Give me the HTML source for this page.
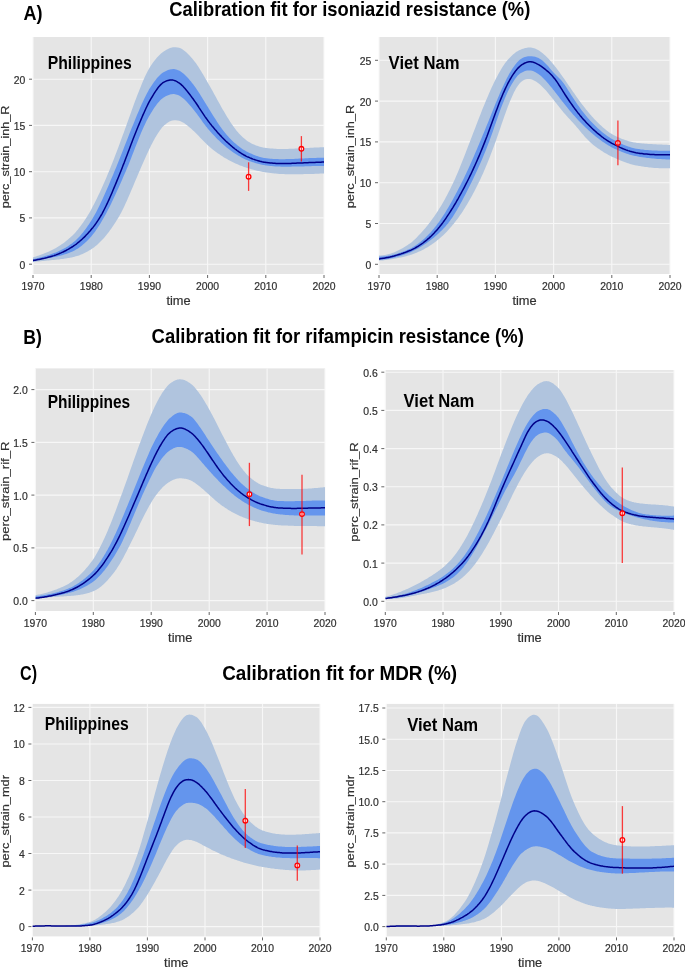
<!DOCTYPE html><html><head><meta charset="utf-8"><style>html,body{margin:0;padding:0;background:#fff;width:685px;height:967px;overflow:hidden}svg{display:block;font-family:"Liberation Sans",sans-serif;will-change:transform;-webkit-font-smoothing:antialiased}</style></head><body>
<svg width="685" height="967" viewBox="0 0 685 967">
<rect width="685" height="967" fill="#fff"/>
<text x="23.6" y="19.7" font-size="20" font-weight="bold" fill="#000" textLength="19.0" lengthAdjust="spacingAndGlyphs">A)</text>
<text x="169.3" y="15.9" font-size="20.5" font-weight="bold" fill="#000" textLength="361" lengthAdjust="spacingAndGlyphs">Calibration fit for isoniazid resistance (%)</text>
<text x="23.3" y="343.5" font-size="21" font-weight="bold" fill="#000" textLength="18.6" lengthAdjust="spacingAndGlyphs">B)</text>
<text x="151.6" y="343.1" font-size="20.5" font-weight="bold" fill="#000" textLength="372.2" lengthAdjust="spacingAndGlyphs">Calibration fit for rifampicin resistance (%)</text>
<text x="20.1" y="680.3" font-size="21" font-weight="bold" fill="#000" textLength="17.0" lengthAdjust="spacingAndGlyphs">C)</text>
<text x="222.2" y="680.3" font-size="20.5" font-weight="bold" fill="#000" textLength="234.9" lengthAdjust="spacingAndGlyphs">Calibration fit for MDR (%)</text>
<defs><clipPath id="cal"><rect x="33" y="37" width="291" height="237"/></clipPath></defs>
<rect x="33" y="37" width="291" height="237" fill="#E5E5E5"/>
<path d="M33,264.2 H324 M33,217.9 H324 M33,171.7 H324 M33,125.4 H324 M33,79.2 H324 M33,37 V274 M91.2,37 V274 M149.4,37 V274 M207.6,37 V274 M265.8,37 V274 M324,37 V274" stroke="#F7F7F7" stroke-width="1.1" fill="none"/>
<path d="M29,264.2 H32 M29,217.9 H32 M29,171.7 H32 M29,125.4 H32 M29,79.2 H32 M33,275 V278 M91.2,275 V278 M149.4,275 V278 M207.6,275 V278 M265.8,275 V278 M324,275 V278" stroke="#555" stroke-width="0.9" fill="none"/>
<text x="25.4" y="268.6" font-size="10.4" fill="#303030" stroke="#303030" stroke-width="0.2" text-anchor="end">0</text>
<text x="25.4" y="222.3" font-size="10.4" fill="#303030" stroke="#303030" stroke-width="0.2" text-anchor="end">5</text>
<text x="25.4" y="176.1" font-size="10.4" fill="#303030" stroke="#303030" stroke-width="0.2" text-anchor="end">10</text>
<text x="25.4" y="129.8" font-size="10.4" fill="#303030" stroke="#303030" stroke-width="0.2" text-anchor="end">15</text>
<text x="25.4" y="83.6" font-size="10.4" fill="#303030" stroke="#303030" stroke-width="0.2" text-anchor="end">20</text>
<text x="33" y="290" font-size="10.4" fill="#303030" stroke="#303030" stroke-width="0.2" text-anchor="middle">1970</text>
<text x="91.2" y="290" font-size="10.4" fill="#303030" stroke="#303030" stroke-width="0.2" text-anchor="middle">1980</text>
<text x="149.4" y="290" font-size="10.4" fill="#303030" stroke="#303030" stroke-width="0.2" text-anchor="middle">1990</text>
<text x="207.6" y="290" font-size="10.4" fill="#303030" stroke="#303030" stroke-width="0.2" text-anchor="middle">2000</text>
<text x="265.8" y="290" font-size="10.4" fill="#303030" stroke="#303030" stroke-width="0.2" text-anchor="middle">2010</text>
<text x="324" y="290" font-size="10.4" fill="#303030" stroke="#303030" stroke-width="0.2" text-anchor="middle">2020</text>
<text x="178.5" y="304.8" font-size="12.6" fill="#303030" stroke="#303030" stroke-width="0.2" text-anchor="middle" textLength="24.2" lengthAdjust="spacingAndGlyphs">time</text>
<text transform="translate(8.8,156.9) rotate(-90)" font-size="11.6" fill="#303030" stroke="#303030" stroke-width="0.2" text-anchor="middle" textLength="102.8" lengthAdjust="spacingAndGlyphs">perc_strain_inh_R</text>
<g clip-path="url(#cal)">
<path d="M33,257.4 L34,257.1 L35,256.8 L36,256.5 L37,256.1 L38,255.8 L39,255.4 L40,255.1 L41,254.7 L42,254.3 L43,254 L44,253.6 L45,253.1 L46,252.7 L47,252.3 L48,251.9 L49,251.4 L50,250.9 L51,250.5 L52,250 L53,249.5 L54,249 L55,248.4 L56,247.9 L57,247.3 L58,246.7 L59,246.1 L60,245.4 L61,244.8 L62,244.1 L63,243.4 L64,242.7 L65,241.9 L66,241.1 L67,240.3 L68,239.5 L69,238.6 L70,237.7 L71,236.8 L72,235.9 L73,234.9 L74,233.9 L75,232.9 L76,231.7 L77,230.6 L78,229.4 L79,228.1 L80,226.8 L81,225.5 L82,224.1 L83,222.7 L84,221.3 L85,219.8 L86,218.3 L87,216.7 L88,215.1 L89,213.4 L90,211.7 L91,209.9 L92,208 L93,206.1 L94,204.2 L95,202.2 L96,200.2 L97,198.2 L98,196.1 L99,194 L100,191.9 L101,189.7 L102,187.5 L103,185.2 L104,183 L105,180.7 L106,178.4 L107,176 L108,173.6 L109,171.2 L110,168.8 L111,166.3 L112,163.8 L113,161.3 L114,158.7 L115,156.1 L116,153.5 L117,150.8 L118,148.2 L119,145.5 L120,142.8 L121,140.1 L122,137.3 L123,134.6 L124,131.9 L125,129.1 L126,126.4 L127,123.6 L128,120.8 L129,118 L130,115.2 L131,112.4 L132,109.6 L133,106.8 L134,104 L135,101.3 L136,98.7 L137,96.1 L138,93.5 L139,91 L140,88.4 L141,85.9 L142,83.5 L143,81.1 L144,78.8 L145,76.6 L146,74.5 L147,72.4 L148,70.5 L149,68.8 L150,67.1 L151,65.5 L152,64 L153,62.6 L154,61.2 L155,59.9 L156,58.7 L157,57.5 L158,56.4 L159,55.4 L160,54.4 L161,53.5 L162,52.7 L163,52 L164,51.3 L165,50.7 L166,50.1 L167,49.5 L168,49 L169,48.5 L170,48.1 L171,47.8 L172,47.5 L173,47.3 L174,47.2 L175,47.2 L176,47.3 L177,47.4 L178,47.6 L179,47.8 L180,48.1 L181,48.5 L182,49.1 L183,49.7 L184,50.4 L185,51.2 L186,52.1 L187,53 L188,54 L189,55 L190,56.1 L191,57.2 L192,58.3 L193,59.5 L194,60.7 L195,62 L196,63.3 L197,64.8 L198,66.3 L199,67.8 L200,69.4 L201,71 L202,72.7 L203,74.3 L204,76 L205,77.8 L206,79.5 L207,81.2 L208,82.9 L209,84.7 L210,86.4 L211,88.2 L212,90 L213,91.8 L214,93.7 L215,95.5 L216,97.3 L217,99.2 L218,101 L219,102.8 L220,104.6 L221,106.4 L222,108.2 L223,109.9 L224,111.6 L225,113.3 L226,115 L227,116.7 L228,118.3 L229,119.8 L230,121.4 L231,122.9 L232,124.4 L233,125.8 L234,127.2 L235,128.6 L236,129.9 L237,131.2 L238,132.3 L239,133.5 L240,134.5 L241,135.5 L242,136.5 L243,137.4 L244,138.3 L245,139.1 L246,139.9 L247,140.7 L248,141.4 L249,142 L250,142.6 L251,143.2 L252,143.7 L253,144.2 L254,144.6 L255,145 L256,145.4 L257,145.8 L258,146.1 L259,146.4 L260,146.7 L261,147 L262,147.2 L263,147.5 L264,147.7 L265,147.8 L266,148 L267,148.1 L268,148.2 L269,148.3 L270,148.4 L271,148.5 L272,148.6 L273,148.6 L274,148.7 L275,148.8 L276,148.8 L277,148.9 L278,148.9 L279,148.9 L280,148.9 L281,148.9 L282,148.9 L283,148.9 L284,148.9 L285,148.9 L286,148.9 L287,148.9 L288,148.9 L289,148.8 L290,148.8 L291,148.8 L292,148.7 L293,148.7 L294,148.7 L295,148.6 L296,148.6 L297,148.5 L298,148.5 L299,148.4 L300,148.4 L301,148.3 L302,148.3 L303,148.2 L304,148.2 L305,148.1 L306,148.1 L307,148 L308,147.9 L309,147.9 L310,147.8 L311,147.8 L312,147.7 L313,147.7 L314,147.6 L315,147.6 L316,147.5 L317,147.5 L318,147.4 L319,147.4 L320,147.3 L321,147.3 L322,147.3 L323,147.2 L324,147.2 L324,173.5 L323,173.5 L322,173.6 L321,173.6 L320,173.6 L319,173.7 L318,173.7 L317,173.8 L316,173.8 L315,173.8 L314,173.9 L313,173.9 L312,173.9 L311,174 L310,174 L309,174 L308,174 L307,174.1 L306,174.1 L305,174.1 L304,174.1 L303,174.2 L302,174.2 L301,174.2 L300,174.2 L299,174.2 L298,174.2 L297,174.2 L296,174.2 L295,174.2 L294,174.2 L293,174.2 L292,174.2 L291,174.2 L290,174.2 L289,174.2 L288,174.2 L287,174.2 L286,174.2 L285,174.2 L284,174.1 L283,174.1 L282,174.1 L281,174 L280,174 L279,173.9 L278,173.8 L277,173.7 L276,173.6 L275,173.5 L274,173.4 L273,173.3 L272,173.2 L271,173.1 L270,173 L269,172.8 L268,172.7 L267,172.5 L266,172.4 L265,172.2 L264,172.1 L263,171.9 L262,171.7 L261,171.5 L260,171.3 L259,171.1 L258,170.9 L257,170.7 L256,170.4 L255,170.2 L254,169.9 L253,169.6 L252,169.4 L251,169.1 L250,168.8 L249,168.5 L248,168.2 L247,167.9 L246,167.6 L245,167.2 L244,166.9 L243,166.5 L242,166.1 L241,165.8 L240,165.4 L239,164.9 L238,164.5 L237,164.1 L236,163.7 L235,163.2 L234,162.7 L233,162.3 L232,161.8 L231,161.3 L230,160.7 L229,160.2 L228,159.7 L227,159.1 L226,158.6 L225,158 L224,157.4 L223,156.8 L222,156.1 L221,155.5 L220,154.8 L219,154.1 L218,153.4 L217,152.7 L216,152 L215,151.2 L214,150.5 L213,149.7 L212,148.9 L211,148.1 L210,147.2 L209,146.3 L208,145.5 L207,144.6 L206,143.6 L205,142.6 L204,141.6 L203,140.6 L202,139.5 L201,138.5 L200,137.4 L199,136.3 L198,135.3 L197,134.2 L196,133.2 L195,132.2 L194,131.3 L193,130.4 L192,129.5 L191,128.6 L190,127.8 L189,126.9 L188,126.1 L187,125.2 L186,124.5 L185,123.8 L184,123.1 L183,122.5 L182,121.9 L181,121.5 L180,121.1 L179,120.8 L178,120.6 L177,120.4 L176,120.3 L175,120.2 L174,120.3 L173,120.4 L172,120.6 L171,120.9 L170,121.3 L169,121.8 L168,122.4 L167,123.1 L166,123.9 L165,124.7 L164,125.5 L163,126.5 L162,127.6 L161,128.9 L160,130.2 L159,131.7 L158,133.2 L157,134.8 L156,136.5 L155,138.1 L154,139.9 L153,141.7 L152,143.7 L151,145.6 L150,147.7 L149,149.7 L148,151.9 L147,154 L146,156.2 L145,158.5 L144,160.7 L143,163 L142,165.3 L141,167.6 L140,169.9 L139,172.2 L138,174.5 L137,176.9 L136,179.2 L135,181.6 L134,184 L133,186.4 L132,188.8 L131,191.1 L130,193.5 L129,195.8 L128,198.1 L127,200.4 L126,202.6 L125,204.8 L124,206.9 L123,208.9 L122,210.9 L121,212.9 L120,214.7 L119,216.5 L118,218.2 L117,219.8 L116,221.4 L115,223 L114,224.5 L113,226 L112,227.5 L111,228.9 L110,230.3 L109,231.7 L108,233 L107,234.3 L106,235.5 L105,236.7 L104,237.9 L103,239 L102,240.1 L101,241.1 L100,242.1 L99,243.1 L98,244 L97,244.9 L96,245.8 L95,246.6 L94,247.4 L93,248.1 L92,248.8 L91,249.4 L90,250.1 L89,250.6 L88,251.2 L87,251.8 L86,252.3 L85,252.8 L84,253.3 L83,253.7 L82,254.2 L81,254.6 L80,255 L79,255.4 L78,255.7 L77,256 L76,256.3 L75,256.6 L74,256.9 L73,257.1 L72,257.4 L71,257.6 L70,257.8 L69,258 L68,258.1 L67,258.3 L66,258.5 L65,258.6 L64,258.8 L63,258.9 L62,259 L61,259.1 L60,259.2 L59,259.4 L58,259.5 L57,259.6 L56,259.7 L55,259.8 L54,259.9 L53,260 L52,260.1 L51,260.2 L50,260.3 L49,260.4 L48,260.5 L47,260.6 L46,260.7 L45,260.8 L44,260.9 L43,261 L42,261.1 L41,261.2 L40,261.3 L39,261.4 L38,261.5 L37,261.6 L36,261.7 L35,261.9 L34,262 L33,262.1 Z" fill="#B0C4DE"/>
<path d="M33,259.2 L34,259 L35,258.7 L36,258.5 L37,258.2 L38,258 L39,257.7 L40,257.5 L41,257.2 L42,256.9 L43,256.7 L44,256.4 L45,256.1 L46,255.8 L47,255.5 L48,255.2 L49,254.9 L50,254.5 L51,254.2 L52,253.8 L53,253.5 L54,253.1 L55,252.8 L56,252.4 L57,252 L58,251.5 L59,251.1 L60,250.6 L61,250.1 L62,249.6 L63,249.1 L64,248.6 L65,248 L66,247.4 L67,246.8 L68,246.2 L69,245.5 L70,244.8 L71,244.1 L72,243.4 L73,242.6 L74,241.8 L75,240.9 L76,240 L77,239.1 L78,238.1 L79,237 L80,235.9 L81,234.8 L82,233.6 L83,232.4 L84,231.1 L85,229.8 L86,228.5 L87,227.1 L88,225.6 L89,224.2 L90,222.6 L91,221.1 L92,219.5 L93,217.8 L94,216.1 L95,214.3 L96,212.4 L97,210.5 L98,208.5 L99,206.5 L100,204.4 L101,202.3 L102,200.2 L103,198 L104,195.8 L105,193.6 L106,191.3 L107,189 L108,186.7 L109,184.4 L110,182 L111,179.6 L112,177.3 L113,174.9 L114,172.5 L115,170.1 L116,167.7 L117,165.3 L118,162.8 L119,160.3 L120,157.8 L121,155.3 L122,152.7 L123,150.2 L124,147.6 L125,145.1 L126,142.5 L127,139.9 L128,137.4 L129,134.8 L130,132.3 L131,129.8 L132,127.3 L133,124.9 L134,122.4 L135,120 L136,117.5 L137,115.1 L138,112.7 L139,110.4 L140,108.1 L141,105.8 L142,103.6 L143,101.4 L144,99.3 L145,97.2 L146,95.2 L147,93.2 L148,91.4 L149,89.6 L150,88 L151,86.4 L152,84.9 L153,83.4 L154,82 L155,80.7 L156,79.4 L157,78.1 L158,77 L159,75.9 L160,74.9 L161,74 L162,73.3 L163,72.6 L164,72 L165,71.4 L166,71 L167,70.5 L168,70.1 L169,69.8 L170,69.5 L171,69.3 L172,69.2 L173,69.1 L174,69.1 L175,69.2 L176,69.5 L177,69.8 L178,70.2 L179,70.6 L180,71.1 L181,71.7 L182,72.4 L183,73.2 L184,74.1 L185,75 L186,76 L187,77 L188,78.1 L189,79.2 L190,80.4 L191,81.6 L192,82.9 L193,84.1 L194,85.4 L195,86.8 L196,88.2 L197,89.7 L198,91.2 L199,92.7 L200,94.3 L201,95.9 L202,97.5 L203,99.2 L204,100.8 L205,102.5 L206,104.1 L207,105.7 L208,107.3 L209,108.9 L210,110.5 L211,112.2 L212,113.8 L213,115.4 L214,117 L215,118.6 L216,120.1 L217,121.7 L218,123.2 L219,124.7 L220,126.2 L221,127.6 L222,128.9 L223,130.3 L224,131.6 L225,132.8 L226,134 L227,135.2 L228,136.3 L229,137.4 L230,138.5 L231,139.5 L232,140.5 L233,141.4 L234,142.4 L235,143.3 L236,144.1 L237,145 L238,145.8 L239,146.5 L240,147.3 L241,148 L242,148.7 L243,149.4 L244,150 L245,150.6 L246,151.2 L247,151.7 L248,152.3 L249,152.7 L250,153.2 L251,153.6 L252,154.1 L253,154.5 L254,154.9 L255,155.3 L256,155.7 L257,156 L258,156.3 L259,156.7 L260,157 L261,157.2 L262,157.5 L263,157.7 L264,157.9 L265,158.1 L266,158.2 L267,158.3 L268,158.5 L269,158.6 L270,158.7 L271,158.7 L272,158.8 L273,158.9 L274,159 L275,159 L276,159.1 L277,159.1 L278,159.1 L279,159.2 L280,159.2 L281,159.2 L282,159.2 L283,159.2 L284,159.2 L285,159.2 L286,159.1 L287,159.1 L288,159.1 L289,159.1 L290,159 L291,159 L292,158.9 L293,158.9 L294,158.9 L295,158.8 L296,158.8 L297,158.7 L298,158.7 L299,158.6 L300,158.6 L301,158.5 L302,158.5 L303,158.4 L304,158.4 L305,158.3 L306,158.3 L307,158.2 L308,158.2 L309,158.1 L310,158.1 L311,158.1 L312,158 L313,158 L314,157.9 L315,157.9 L316,157.9 L317,157.8 L318,157.8 L319,157.8 L320,157.8 L321,157.7 L322,157.7 L323,157.7 L324,157.7 L324,165.9 L323,165.9 L322,165.9 L321,165.9 L320,166 L319,166 L318,166 L317,166 L316,166 L315,166.1 L314,166.1 L313,166.1 L312,166.1 L311,166.2 L310,166.2 L309,166.2 L308,166.2 L307,166.3 L306,166.3 L305,166.3 L304,166.4 L303,166.4 L302,166.4 L301,166.4 L300,166.5 L299,166.5 L298,166.5 L297,166.5 L296,166.6 L295,166.6 L294,166.6 L293,166.6 L292,166.6 L291,166.7 L290,166.7 L289,166.7 L288,166.7 L287,166.7 L286,166.7 L285,166.7 L284,166.7 L283,166.7 L282,166.7 L281,166.7 L280,166.6 L279,166.6 L278,166.6 L277,166.5 L276,166.4 L275,166.4 L274,166.3 L273,166.2 L272,166.1 L271,166 L270,165.9 L269,165.8 L268,165.7 L267,165.6 L266,165.5 L265,165.3 L264,165.1 L263,165 L262,164.8 L261,164.5 L260,164.3 L259,164.1 L258,163.8 L257,163.5 L256,163.2 L255,162.9 L254,162.6 L253,162.3 L252,162 L251,161.6 L250,161.2 L249,160.9 L248,160.5 L247,160.1 L246,159.7 L245,159.2 L244,158.7 L243,158.2 L242,157.7 L241,157.2 L240,156.6 L239,156 L238,155.4 L237,154.8 L236,154.2 L235,153.5 L234,152.9 L233,152.2 L232,151.5 L231,150.7 L230,150 L229,149.2 L228,148.5 L227,147.7 L226,146.9 L225,146 L224,145.2 L223,144.3 L222,143.4 L221,142.5 L220,141.6 L219,140.6 L218,139.7 L217,138.7 L216,137.7 L215,136.6 L214,135.6 L213,134.5 L212,133.4 L211,132.3 L210,131.2 L209,130 L208,128.9 L207,127.6 L206,126.4 L205,125.1 L204,123.8 L203,122.4 L202,121 L201,119.6 L200,118.2 L199,116.8 L198,115.5 L197,114.1 L196,112.8 L195,111.5 L194,110.2 L193,109 L192,107.8 L191,106.6 L190,105.4 L189,104.3 L188,103.2 L187,102.1 L186,101 L185,100 L184,99.1 L183,98.2 L182,97.4 L181,96.7 L180,96.1 L179,95.5 L178,95.1 L177,94.7 L176,94.4 L175,94.2 L174,94.1 L173,94.1 L172,94.2 L171,94.3 L170,94.6 L169,94.9 L168,95.2 L167,95.7 L166,96.1 L165,96.7 L164,97.3 L163,97.9 L162,98.7 L161,99.6 L160,100.6 L159,101.7 L158,102.8 L157,104.1 L156,105.4 L155,106.8 L154,108.3 L153,109.8 L152,111.4 L151,113 L150,114.7 L149,116.3 L148,118.2 L147,120.1 L146,122.1 L145,124.2 L144,126.3 L143,128.5 L142,130.8 L141,133.1 L140,135.5 L139,137.9 L138,140.4 L137,143 L136,145.5 L135,148.1 L134,150.7 L133,153.2 L132,155.8 L131,158.4 L130,160.9 L129,163.4 L128,165.9 L127,168.3 L126,170.7 L125,173 L124,175.3 L123,177.6 L122,179.9 L121,182.2 L120,184.4 L119,186.7 L118,188.9 L117,191.1 L116,193.3 L115,195.5 L114,197.6 L113,199.7 L112,201.8 L111,203.9 L110,205.9 L109,207.9 L108,209.8 L107,211.8 L106,213.7 L105,215.5 L104,217.3 L103,219.1 L102,220.8 L101,222.5 L100,224.2 L99,225.8 L98,227.3 L97,228.8 L96,230.3 L95,231.7 L94,233 L93,234.3 L92,235.5 L91,236.7 L90,237.8 L89,238.9 L88,239.9 L87,240.9 L86,241.9 L85,242.8 L84,243.7 L83,244.6 L82,245.4 L81,246.2 L80,247 L79,247.7 L78,248.4 L77,249 L76,249.6 L75,250.2 L74,250.7 L73,251.2 L72,251.7 L71,252.1 L70,252.5 L69,252.9 L68,253.3 L67,253.7 L66,254 L65,254.3 L64,254.6 L63,254.9 L62,255.2 L61,255.5 L60,255.7 L59,256 L58,256.2 L57,256.4 L56,256.7 L55,256.9 L54,257.1 L53,257.3 L52,257.5 L51,257.7 L50,257.9 L49,258.1 L48,258.3 L47,258.5 L46,258.7 L45,258.9 L44,259.1 L43,259.3 L42,259.5 L41,259.7 L40,259.9 L39,260.1 L38,260.3 L37,260.5 L36,260.8 L35,261 L34,261.2 L33,261.4 Z" fill="#6495ED"/>
<path d="M33,260.5 L34,260.3 L35,260.2 L36,260 L37,259.8 L38,259.6 L39,259.4 L40,259.2 L41,259 L42,258.8 L43,258.6 L44,258.4 L45,258.1 L46,257.9 L47,257.6 L48,257.3 L49,257.1 L50,256.8 L51,256.5 L52,256.2 L53,255.9 L54,255.6 L55,255.2 L56,254.9 L57,254.5 L58,254.1 L59,253.7 L60,253.3 L61,252.9 L62,252.4 L63,252 L64,251.5 L65,251 L66,250.5 L67,249.9 L68,249.4 L69,248.8 L70,248.2 L71,247.6 L72,247 L73,246.4 L74,245.7 L75,245 L76,244.3 L77,243.5 L78,242.7 L79,241.9 L80,241 L81,240.2 L82,239.3 L83,238.3 L84,237.4 L85,236.4 L86,235.3 L87,234.3 L88,233.2 L89,232.1 L90,231 L91,229.8 L92,228.6 L93,227.4 L94,226.1 L95,224.8 L96,223.4 L97,221.9 L98,220.4 L99,218.8 L100,217.2 L101,215.5 L102,213.8 L103,211.9 L104,210 L105,208 L106,206 L107,203.9 L108,201.8 L109,199.6 L110,197.3 L111,195 L112,192.7 L113,190.3 L114,187.9 L115,185.5 L116,183.1 L117,180.6 L118,178.2 L119,175.7 L120,173.2 L121,170.7 L122,168.2 L123,165.6 L124,163.1 L125,160.4 L126,157.8 L127,155.2 L128,152.5 L129,149.9 L130,147.2 L131,144.6 L132,141.9 L133,139.3 L134,136.7 L135,134.2 L136,131.7 L137,129.2 L138,126.8 L139,124.4 L140,122 L141,119.6 L142,117.3 L143,114.9 L144,112.7 L145,110.5 L146,108.3 L147,106.2 L148,104.2 L149,102.2 L150,100.4 L151,98.6 L152,97 L153,95.3 L154,93.7 L155,92.1 L156,90.6 L157,89.2 L158,87.8 L159,86.6 L160,85.4 L161,84.4 L162,83.5 L163,82.7 L164,82.1 L165,81.6 L166,81.1 L167,80.7 L168,80.4 L169,80.2 L170,80 L171,80 L172,80 L173,80.1 L174,80.4 L175,80.7 L176,81.2 L177,81.7 L178,82.3 L179,82.9 L180,83.6 L181,84.4 L182,85.4 L183,86.3 L184,87.4 L185,88.5 L186,89.7 L187,90.9 L188,92.2 L189,93.5 L190,94.8 L191,96.1 L192,97.5 L193,98.8 L194,100.2 L195,101.6 L196,103 L197,104.5 L198,106 L199,107.6 L200,109.1 L201,110.6 L202,112.1 L203,113.6 L204,115.1 L205,116.6 L206,118 L207,119.4 L208,120.8 L209,122.1 L210,123.4 L211,124.6 L212,125.9 L213,127.1 L214,128.3 L215,129.5 L216,130.6 L217,131.8 L218,132.9 L219,134 L220,135.1 L221,136.1 L222,137.2 L223,138.2 L224,139.2 L225,140.2 L226,141.2 L227,142.1 L228,143 L229,143.9 L230,144.8 L231,145.7 L232,146.5 L233,147.4 L234,148.2 L235,149 L236,149.7 L237,150.5 L238,151.2 L239,151.9 L240,152.5 L241,153.2 L242,153.8 L243,154.4 L244,155 L245,155.5 L246,156.1 L247,156.6 L248,157 L249,157.4 L250,157.9 L251,158.3 L252,158.7 L253,159.1 L254,159.4 L255,159.8 L256,160.1 L257,160.4 L258,160.7 L259,161 L260,161.3 L261,161.5 L262,161.8 L263,162 L264,162.2 L265,162.3 L266,162.5 L267,162.6 L268,162.7 L269,162.8 L270,162.9 L271,163 L272,163.1 L273,163.2 L274,163.2 L275,163.3 L276,163.4 L277,163.4 L278,163.4 L279,163.5 L280,163.5 L281,163.5 L282,163.5 L283,163.5 L284,163.5 L285,163.5 L286,163.5 L287,163.5 L288,163.4 L289,163.4 L290,163.4 L291,163.4 L292,163.3 L293,163.3 L294,163.3 L295,163.2 L296,163.2 L297,163.1 L298,163.1 L299,163.1 L300,163 L301,163 L302,162.9 L303,162.9 L304,162.8 L305,162.8 L306,162.8 L307,162.7 L308,162.7 L309,162.6 L310,162.6 L311,162.5 L312,162.5 L313,162.4 L314,162.4 L315,162.4 L316,162.3 L317,162.3 L318,162.3 L319,162.2 L320,162.2 L321,162.2 L322,162.1 L323,162.1 L324,162.1" fill="none" stroke="#000088" stroke-width="1.5" stroke-linejoin="round"/>
</g>
<circle cx="248.6" cy="176.7" r="2.3" fill="#fff" stroke="#FF0000" stroke-width="1.3"/>
<path d="M248.6,162.3 V190.9" stroke="#FF0000" stroke-opacity="0.75" stroke-width="1.3"/>
<circle cx="301.4" cy="148.8" r="2.3" fill="#fff" stroke="#FF0000" stroke-width="1.3"/>
<path d="M301.4,136.1 V161.5" stroke="#FF0000" stroke-opacity="0.75" stroke-width="1.3"/>
<text x="47.7" y="69.1" font-size="18" font-weight="bold" fill="#000" textLength="84.0" lengthAdjust="spacingAndGlyphs">Philippines</text>
<defs><clipPath id="car"><rect x="379" y="37" width="291" height="237"/></clipPath></defs>
<rect x="379" y="37" width="291" height="237" fill="#E5E5E5"/>
<path d="M379,264.3 H670 M379,223.5 H670 M379,182.7 H670 M379,141.9 H670 M379,101.1 H670 M379,60.3 H670 M379,37 V274 M437.2,37 V274 M495.4,37 V274 M553.6,37 V274 M611.8,37 V274 M670,37 V274" stroke="#F7F7F7" stroke-width="1.1" fill="none"/>
<path d="M375,264.3 H378 M375,223.5 H378 M375,182.7 H378 M375,141.9 H378 M375,101.1 H378 M375,60.3 H378 M379,275 V278 M437.2,275 V278 M495.4,275 V278 M553.6,275 V278 M611.8,275 V278 M670,275 V278" stroke="#555" stroke-width="0.9" fill="none"/>
<text x="371.4" y="268.7" font-size="10.4" fill="#303030" stroke="#303030" stroke-width="0.2" text-anchor="end">0</text>
<text x="371.4" y="227.9" font-size="10.4" fill="#303030" stroke="#303030" stroke-width="0.2" text-anchor="end">5</text>
<text x="371.4" y="187.1" font-size="10.4" fill="#303030" stroke="#303030" stroke-width="0.2" text-anchor="end">10</text>
<text x="371.4" y="146.3" font-size="10.4" fill="#303030" stroke="#303030" stroke-width="0.2" text-anchor="end">15</text>
<text x="371.4" y="105.5" font-size="10.4" fill="#303030" stroke="#303030" stroke-width="0.2" text-anchor="end">20</text>
<text x="371.4" y="64.7" font-size="10.4" fill="#303030" stroke="#303030" stroke-width="0.2" text-anchor="end">25</text>
<text x="379" y="290" font-size="10.4" fill="#303030" stroke="#303030" stroke-width="0.2" text-anchor="middle">1970</text>
<text x="437.2" y="290" font-size="10.4" fill="#303030" stroke="#303030" stroke-width="0.2" text-anchor="middle">1980</text>
<text x="495.4" y="290" font-size="10.4" fill="#303030" stroke="#303030" stroke-width="0.2" text-anchor="middle">1990</text>
<text x="553.6" y="290" font-size="10.4" fill="#303030" stroke="#303030" stroke-width="0.2" text-anchor="middle">2000</text>
<text x="611.8" y="290" font-size="10.4" fill="#303030" stroke="#303030" stroke-width="0.2" text-anchor="middle">2010</text>
<text x="670" y="290" font-size="10.4" fill="#303030" stroke="#303030" stroke-width="0.2" text-anchor="middle">2020</text>
<text x="524.5" y="304.8" font-size="12.6" fill="#303030" stroke="#303030" stroke-width="0.2" text-anchor="middle" textLength="24.2" lengthAdjust="spacingAndGlyphs">time</text>
<text transform="translate(354.1,156.5) rotate(-90)" font-size="11.6" fill="#303030" stroke="#303030" stroke-width="0.2" text-anchor="middle" textLength="103.5" lengthAdjust="spacingAndGlyphs">perc_strain_inh_R</text>
<g clip-path="url(#car)">
<path d="M379,255.4 L380,255.4 L381,255.4 L382,255.3 L383,255.2 L384,255.1 L385,254.9 L386,254.8 L387,254.6 L388,254.3 L389,254.1 L390,253.8 L391,253.4 L392,253.1 L393,252.7 L394,252.4 L395,251.9 L396,251.5 L397,251.1 L398,250.6 L399,250.1 L400,249.6 L401,249 L402,248.5 L403,247.9 L404,247.3 L405,246.7 L406,246.1 L407,245.4 L408,244.8 L409,244.1 L410,243.4 L411,242.7 L412,241.9 L413,241 L414,240.1 L415,239.2 L416,238.2 L417,237.2 L418,236.1 L419,235.1 L420,234 L421,232.9 L422,231.8 L423,230.7 L424,229.6 L425,228.4 L426,227.2 L427,226 L428,224.7 L429,223.5 L430,222.2 L431,220.8 L432,219.5 L433,218.1 L434,216.7 L435,215.3 L436,213.8 L437,212.3 L438,210.7 L439,209.1 L440,207.5 L441,205.9 L442,204.2 L443,202.4 L444,200.7 L445,198.9 L446,197.1 L447,195.2 L448,193.3 L449,191.3 L450,189.4 L451,187.3 L452,185.3 L453,183.2 L454,181 L455,178.9 L456,176.6 L457,174.3 L458,171.9 L459,169.5 L460,167.1 L461,164.6 L462,162.1 L463,159.5 L464,156.9 L465,154.4 L466,151.8 L467,149.2 L468,146.6 L469,144 L470,141.4 L471,138.8 L472,136.2 L473,133.6 L474,131 L475,128.4 L476,125.8 L477,123.2 L478,120.6 L479,118 L480,115.4 L481,112.9 L482,110.3 L483,107.8 L484,105.4 L485,103 L486,100.6 L487,98.2 L488,95.9 L489,93.5 L490,91.3 L491,89 L492,86.8 L493,84.7 L494,82.6 L495,80.6 L496,78.6 L497,76.7 L498,74.8 L499,73 L500,71.2 L501,69.5 L502,67.8 L503,66.2 L504,64.7 L505,63.3 L506,62 L507,60.8 L508,59.6 L509,58.5 L510,57.4 L511,56.4 L512,55.4 L513,54.5 L514,53.7 L515,52.9 L516,52.1 L517,51.5 L518,50.9 L519,50.3 L520,49.9 L521,49.5 L522,49.1 L523,48.7 L524,48.4 L525,48.1 L526,47.9 L527,47.7 L528,47.6 L529,47.5 L530,47.5 L531,47.5 L532,47.7 L533,47.9 L534,48.3 L535,48.6 L536,49.1 L537,49.5 L538,50 L539,50.6 L540,51.3 L541,52 L542,52.8 L543,53.6 L544,54.4 L545,55.3 L546,56.3 L547,57.2 L548,58.3 L549,59.3 L550,60.4 L551,61.6 L552,62.7 L553,63.9 L554,65.1 L555,66.4 L556,67.6 L557,68.9 L558,70.3 L559,71.6 L560,73 L561,74.4 L562,75.8 L563,77.2 L564,78.6 L565,80 L566,81.5 L567,82.9 L568,84.4 L569,85.9 L570,87.3 L571,88.8 L572,90.2 L573,91.7 L574,93.1 L575,94.6 L576,96 L577,97.4 L578,98.8 L579,100.2 L580,101.6 L581,102.9 L582,104.2 L583,105.5 L584,106.8 L585,108.1 L586,109.4 L587,110.6 L588,111.8 L589,113 L590,114.2 L591,115.3 L592,116.5 L593,117.6 L594,118.7 L595,119.7 L596,120.8 L597,121.8 L598,122.8 L599,123.8 L600,124.7 L601,125.6 L602,126.5 L603,127.4 L604,128.3 L605,129.1 L606,129.9 L607,130.7 L608,131.5 L609,132.2 L610,132.9 L611,133.5 L612,134.1 L613,134.7 L614,135.2 L615,135.7 L616,136.2 L617,136.7 L618,137.2 L619,137.6 L620,138.1 L621,138.5 L622,138.9 L623,139.3 L624,139.6 L625,140 L626,140.3 L627,140.6 L628,140.9 L629,141.2 L630,141.5 L631,141.7 L632,142 L633,142.2 L634,142.4 L635,142.6 L636,142.7 L637,142.9 L638,143 L639,143.1 L640,143.2 L641,143.3 L642,143.4 L643,143.5 L644,143.6 L645,143.7 L646,143.7 L647,143.8 L648,143.9 L649,144 L650,144 L651,144.1 L652,144.1 L653,144.2 L654,144.2 L655,144.3 L656,144.3 L657,144.4 L658,144.4 L659,144.5 L660,144.5 L661,144.6 L662,144.6 L663,144.7 L664,144.7 L665,144.8 L666,144.8 L667,144.8 L668,144.9 L669,144.9 L670,145 L670,168.3 L669,168.3 L668,168.3 L667,168.3 L666,168.3 L665,168.3 L664,168.3 L663,168.3 L662,168.3 L661,168.3 L660,168.2 L659,168.2 L658,168.1 L657,168.1 L656,168 L655,167.9 L654,167.9 L653,167.8 L652,167.7 L651,167.6 L650,167.5 L649,167.4 L648,167.3 L647,167.1 L646,167 L645,166.9 L644,166.7 L643,166.6 L642,166.5 L641,166.3 L640,166.1 L639,166 L638,165.8 L637,165.6 L636,165.4 L635,165.2 L634,165 L633,164.7 L632,164.5 L631,164.2 L630,163.9 L629,163.6 L628,163.2 L627,162.9 L626,162.6 L625,162.2 L624,161.8 L623,161.5 L622,161.1 L621,160.7 L620,160.2 L619,159.8 L618,159.4 L617,159 L616,158.5 L615,158.1 L614,157.6 L613,157.2 L612,156.7 L611,156.2 L610,155.7 L609,155.2 L608,154.7 L607,154.1 L606,153.5 L605,153 L604,152.4 L603,151.7 L602,151.1 L601,150.5 L600,149.8 L599,149.1 L598,148.5 L597,147.8 L596,147 L595,146.3 L594,145.5 L593,144.7 L592,143.8 L591,143 L590,142.1 L589,141.1 L588,140.1 L587,139.1 L586,138 L585,136.9 L584,135.8 L583,134.6 L582,133.4 L581,132.2 L580,131 L579,129.8 L578,128.6 L577,127.4 L576,126.2 L575,125.1 L574,124 L573,122.8 L572,121.7 L571,120.7 L570,119.6 L569,118.5 L568,117.4 L567,116.3 L566,115.2 L565,114 L564,112.9 L563,111.7 L562,110.5 L561,109.3 L560,108 L559,106.8 L558,105.5 L557,104.2 L556,102.9 L555,101.7 L554,100.4 L553,99.1 L552,97.9 L551,96.6 L550,95.4 L549,94.2 L548,92.9 L547,91.8 L546,90.6 L545,89.5 L544,88.4 L543,87.4 L542,86.4 L541,85.5 L540,84.5 L539,83.7 L538,82.9 L537,82.2 L536,81.6 L535,81 L534,80.5 L533,80 L532,79.6 L531,79.3 L530,79.1 L529,79 L528,79 L527,79.1 L526,79.3 L525,79.6 L524,79.9 L523,80.5 L522,81.2 L521,82.1 L520,83.1 L519,84.2 L518,85.4 L517,86.9 L516,88.5 L515,90.4 L514,92.3 L513,94.5 L512,96.7 L511,99 L510,101.3 L509,103.7 L508,106.3 L507,108.9 L506,111.7 L505,114.5 L504,117.3 L503,120.2 L502,123.1 L501,126 L500,128.9 L499,131.8 L498,134.7 L497,137.6 L496,140.4 L495,143.2 L494,145.9 L493,148.5 L492,151.2 L491,153.8 L490,156.4 L489,158.9 L488,161.4 L487,163.9 L486,166.3 L485,168.7 L484,171.1 L483,173.4 L482,175.6 L481,177.8 L480,180 L479,182.1 L478,184.1 L477,186.1 L476,188.1 L475,190 L474,191.9 L473,193.8 L472,195.7 L471,197.5 L470,199.3 L469,201 L468,202.8 L467,204.5 L466,206.1 L465,207.7 L464,209.3 L463,210.9 L462,212.4 L461,213.9 L460,215.3 L459,216.8 L458,218.2 L457,219.5 L456,220.8 L455,222.1 L454,223.4 L453,224.6 L452,225.8 L451,226.9 L450,228.1 L449,229.2 L448,230.3 L447,231.4 L446,232.4 L445,233.4 L444,234.4 L443,235.4 L442,236.3 L441,237.2 L440,238.1 L439,238.9 L438,239.8 L437,240.6 L436,241.4 L435,242.1 L434,242.9 L433,243.6 L432,244.3 L431,245 L430,245.6 L429,246.3 L428,246.9 L427,247.5 L426,248.1 L425,248.6 L424,249.2 L423,249.7 L422,250.2 L421,250.7 L420,251.2 L419,251.6 L418,252.1 L417,252.5 L416,252.9 L415,253.3 L414,253.7 L413,254.1 L412,254.4 L411,254.8 L410,255.1 L409,255.4 L408,255.6 L407,255.9 L406,256.2 L405,256.4 L404,256.7 L403,256.9 L402,257.2 L401,257.4 L400,257.6 L399,257.8 L398,258.1 L397,258.3 L396,258.5 L395,258.6 L394,258.8 L393,259 L392,259.2 L391,259.3 L390,259.5 L389,259.6 L388,259.8 L387,259.9 L386,260 L385,260.1 L384,260.3 L383,260.4 L382,260.4 L381,260.5 L380,260.6 L379,260.7 Z" fill="#B0C4DE"/>
<path d="M379,256.7 L380,256.7 L381,256.6 L382,256.5 L383,256.4 L384,256.3 L385,256.2 L386,256.1 L387,255.9 L388,255.8 L389,255.6 L390,255.4 L391,255.2 L392,255 L393,254.7 L394,254.5 L395,254.2 L396,254 L397,253.7 L398,253.4 L399,253.1 L400,252.7 L401,252.4 L402,252 L403,251.7 L404,251.3 L405,250.9 L406,250.5 L407,250.1 L408,249.6 L409,249.2 L410,248.7 L411,248.2 L412,247.7 L413,247.1 L414,246.5 L415,245.8 L416,245.2 L417,244.5 L418,243.7 L419,243 L420,242.2 L421,241.4 L422,240.6 L423,239.7 L424,238.9 L425,238 L426,237 L427,236.1 L428,235.1 L429,234 L430,233 L431,231.9 L432,230.7 L433,229.6 L434,228.4 L435,227.1 L436,225.9 L437,224.6 L438,223.2 L439,221.9 L440,220.5 L441,219 L442,217.5 L443,216 L444,214.5 L445,212.9 L446,211.3 L447,209.6 L448,207.9 L449,206.2 L450,204.5 L451,202.7 L452,201 L453,199.2 L454,197.3 L455,195.5 L456,193.6 L457,191.7 L458,189.8 L459,187.8 L460,185.9 L461,183.9 L462,181.9 L463,179.9 L464,177.9 L465,175.8 L466,173.7 L467,171.5 L468,169.4 L469,167.2 L470,165 L471,162.7 L472,160.5 L473,158.2 L474,155.9 L475,153.6 L476,151.2 L477,148.9 L478,146.6 L479,144.2 L480,141.8 L481,139.5 L482,137.1 L483,134.6 L484,132.2 L485,129.8 L486,127.3 L487,124.8 L488,122.4 L489,119.9 L490,117.4 L491,115 L492,112.5 L493,110 L494,107.5 L495,105 L496,102.6 L497,100.2 L498,97.8 L499,95.4 L500,93.1 L501,90.8 L502,88.6 L503,86.4 L504,84.3 L505,82.2 L506,80.1 L507,78.1 L508,76.2 L509,74.3 L510,72.6 L511,70.9 L512,69.3 L513,67.8 L514,66.4 L515,65 L516,63.7 L517,62.5 L518,61.4 L519,60.5 L520,59.6 L521,58.9 L522,58.2 L523,57.7 L524,57.2 L525,56.9 L526,56.7 L527,56.5 L528,56.3 L529,56.2 L530,56.2 L531,56.2 L532,56.3 L533,56.4 L534,56.6 L535,56.8 L536,57.1 L537,57.4 L538,57.8 L539,58.3 L540,58.9 L541,59.6 L542,60.3 L543,61.1 L544,61.9 L545,62.9 L546,63.9 L547,65 L548,66.1 L549,67.3 L550,68.5 L551,69.7 L552,70.8 L553,71.9 L554,73 L555,74 L556,75 L557,76 L558,77 L559,78 L560,79 L561,80.1 L562,81.2 L563,82.5 L564,83.8 L565,85.2 L566,86.7 L567,88.3 L568,89.9 L569,91.5 L570,93.1 L571,94.7 L572,96.3 L573,97.8 L574,99.3 L575,100.8 L576,102.3 L577,103.8 L578,105.2 L579,106.6 L580,108 L581,109.4 L582,110.7 L583,112.1 L584,113.3 L585,114.6 L586,115.8 L587,117 L588,118.2 L589,119.3 L590,120.4 L591,121.5 L592,122.6 L593,123.6 L594,124.6 L595,125.6 L596,126.6 L597,127.5 L598,128.4 L599,129.3 L600,130.2 L601,131 L602,131.9 L603,132.7 L604,133.5 L605,134.2 L606,135 L607,135.7 L608,136.4 L609,137.1 L610,137.7 L611,138.4 L612,139 L613,139.5 L614,140.1 L615,140.6 L616,141.1 L617,141.7 L618,142.2 L619,142.6 L620,143.1 L621,143.6 L622,144.1 L623,144.5 L624,144.9 L625,145.3 L626,145.7 L627,146.1 L628,146.5 L629,146.8 L630,147.1 L631,147.4 L632,147.7 L633,148 L634,148.2 L635,148.4 L636,148.7 L637,148.8 L638,149 L639,149.1 L640,149.3 L641,149.4 L642,149.5 L643,149.6 L644,149.8 L645,149.9 L646,150 L647,150 L648,150.1 L649,150.2 L650,150.3 L651,150.3 L652,150.4 L653,150.5 L654,150.5 L655,150.6 L656,150.6 L657,150.6 L658,150.7 L659,150.7 L660,150.7 L661,150.7 L662,150.7 L663,150.8 L664,150.8 L665,150.8 L666,150.7 L667,150.7 L668,150.7 L669,150.7 L670,150.7 L670,159.5 L669,159.5 L668,159.5 L667,159.4 L666,159.4 L665,159.3 L664,159.3 L663,159.3 L662,159.2 L661,159.1 L660,159.1 L659,159 L658,159 L657,158.9 L656,158.8 L655,158.7 L654,158.6 L653,158.5 L652,158.4 L651,158.3 L650,158.2 L649,158.1 L648,158 L647,157.9 L646,157.7 L645,157.6 L644,157.5 L643,157.3 L642,157.2 L641,157 L640,156.9 L639,156.7 L638,156.5 L637,156.3 L636,156.1 L635,155.9 L634,155.7 L633,155.5 L632,155.2 L631,154.9 L630,154.7 L629,154.4 L628,154 L627,153.7 L626,153.4 L625,153 L624,152.7 L623,152.3 L622,151.9 L621,151.5 L620,151.1 L619,150.7 L618,150.2 L617,149.8 L616,149.3 L615,148.9 L614,148.4 L613,147.9 L612,147.4 L611,146.9 L610,146.3 L609,145.8 L608,145.2 L607,144.6 L606,143.9 L605,143.3 L604,142.6 L603,141.9 L602,141.2 L601,140.5 L600,139.8 L599,139 L598,138.3 L597,137.5 L596,136.7 L595,135.9 L594,135 L593,134.2 L592,133.3 L591,132.5 L590,131.6 L589,130.7 L588,129.8 L587,128.8 L586,127.9 L585,126.9 L584,126 L583,125 L582,124 L581,123 L580,121.9 L579,120.9 L578,119.9 L577,118.8 L576,117.7 L575,116.6 L574,115.5 L573,114.4 L572,113.2 L571,112.1 L570,110.9 L569,109.7 L568,108.5 L567,107.3 L566,106 L565,104.8 L564,103.5 L563,102.3 L562,101 L561,99.7 L560,98.4 L559,97.1 L558,95.8 L557,94.5 L556,93.2 L555,91.9 L554,90.6 L553,89.4 L552,88.1 L551,86.9 L550,85.7 L549,84.5 L548,83.3 L547,82.2 L546,81.1 L545,80 L544,79 L543,78 L542,77.1 L541,76.1 L540,75.3 L539,74.5 L538,73.8 L537,73.2 L536,72.6 L535,72 L534,71.5 L533,71 L532,70.7 L531,70.5 L530,70.4 L529,70.4 L528,70.4 L527,70.6 L526,70.8 L525,71.1 L524,71.4 L523,71.9 L522,72.4 L521,72.9 L520,73.6 L519,74.4 L518,75.3 L517,76.5 L516,77.7 L515,79.1 L514,80.6 L513,82.2 L512,83.8 L511,85.5 L510,87.3 L509,89.2 L508,91.3 L507,93.4 L506,95.7 L505,98 L504,100.4 L503,102.9 L502,105.4 L501,108.1 L500,110.8 L499,113.7 L498,116.5 L497,119.4 L496,122.2 L495,125.1 L494,128 L493,130.9 L492,133.7 L491,136.6 L490,139.3 L489,142 L488,144.6 L487,147.2 L486,149.7 L485,152.2 L484,154.6 L483,157 L482,159.4 L481,161.7 L480,164 L479,166.2 L478,168.5 L477,170.7 L476,172.8 L475,175 L474,177.1 L473,179.2 L472,181.2 L471,183.3 L470,185.3 L469,187.3 L468,189.3 L467,191.3 L466,193.2 L465,195.2 L464,197.1 L463,199 L462,200.9 L461,202.8 L460,204.6 L459,206.4 L458,208.1 L457,209.9 L456,211.6 L455,213.2 L454,214.8 L453,216.4 L452,217.9 L451,219.3 L450,220.7 L449,222.1 L448,223.4 L447,224.6 L446,225.8 L445,227 L444,228.1 L443,229.1 L442,230.2 L441,231.1 L440,232.1 L439,233 L438,234 L437,234.8 L436,235.7 L435,236.6 L434,237.4 L433,238.2 L432,239 L431,239.8 L430,240.6 L429,241.3 L428,242 L427,242.7 L426,243.4 L425,244.1 L424,244.8 L423,245.4 L422,246 L421,246.7 L420,247.3 L419,247.9 L418,248.4 L417,249 L416,249.6 L415,250.1 L414,250.6 L413,251.1 L412,251.6 L411,252 L410,252.5 L409,252.9 L408,253.2 L407,253.6 L406,254 L405,254.3 L404,254.7 L403,255 L402,255.3 L401,255.7 L400,256 L399,256.3 L398,256.6 L397,256.8 L396,257.1 L395,257.4 L394,257.6 L393,257.9 L392,258.1 L391,258.3 L390,258.5 L389,258.7 L388,258.9 L387,259 L386,259.2 L385,259.3 L384,259.4 L383,259.5 L382,259.6 L381,259.7 L380,259.8 L379,259.8 Z" fill="#6495ED"/>
<path d="M379,258.9 L380,258.8 L381,258.6 L382,258.5 L383,258.3 L384,258.2 L385,258 L386,257.8 L387,257.6 L388,257.4 L389,257.2 L390,257 L391,256.7 L392,256.5 L393,256.2 L394,256 L395,255.7 L396,255.4 L397,255.1 L398,254.8 L399,254.5 L400,254.2 L401,253.9 L402,253.5 L403,253.2 L404,252.8 L405,252.5 L406,252.1 L407,251.7 L408,251.3 L409,250.9 L410,250.5 L411,250.1 L412,249.6 L413,249.1 L414,248.6 L415,248.1 L416,247.5 L417,246.9 L418,246.3 L419,245.7 L420,245 L421,244.3 L422,243.7 L423,243 L424,242.2 L425,241.4 L426,240.6 L427,239.8 L428,238.9 L429,238.1 L430,237.1 L431,236.2 L432,235.2 L433,234.2 L434,233.2 L435,232.1 L436,231 L437,229.9 L438,228.8 L439,227.6 L440,226.3 L441,225.1 L442,223.7 L443,222.4 L444,221 L445,219.6 L446,218.2 L447,216.7 L448,215.2 L449,213.7 L450,212.1 L451,210.5 L452,208.9 L453,207.3 L454,205.6 L455,204 L456,202.3 L457,200.5 L458,198.8 L459,197 L460,195.2 L461,193.4 L462,191.5 L463,189.7 L464,187.8 L465,185.9 L466,183.9 L467,182 L468,180 L469,178 L470,175.9 L471,173.9 L472,171.7 L473,169.6 L474,167.4 L475,165.2 L476,163 L477,160.7 L478,158.4 L479,156.1 L480,153.7 L481,151.3 L482,148.9 L483,146.4 L484,143.9 L485,141.4 L486,138.8 L487,136.2 L488,133.4 L489,130.7 L490,127.9 L491,125.2 L492,122.5 L493,119.8 L494,117 L495,114.3 L496,111.6 L497,108.9 L498,106.2 L499,103.6 L500,101 L501,98.6 L502,96.2 L503,93.8 L504,91.6 L505,89.4 L506,87.3 L507,85.2 L508,83.2 L509,81.3 L510,79.5 L511,77.8 L512,76.2 L513,74.7 L514,73.2 L515,71.8 L516,70.4 L517,69.2 L518,68.1 L519,67.1 L520,66.2 L521,65.4 L522,64.7 L523,64.1 L524,63.5 L525,63 L526,62.6 L527,62.2 L528,61.9 L529,61.8 L530,61.7 L531,61.7 L532,61.9 L533,62.1 L534,62.5 L535,62.9 L536,63.3 L537,63.8 L538,64.3 L539,64.9 L540,65.5 L541,66.2 L542,66.9 L543,67.6 L544,68.4 L545,69.2 L546,70 L547,70.8 L548,71.6 L549,72.5 L550,73.5 L551,74.5 L552,75.6 L553,76.7 L554,77.9 L555,79.1 L556,80.5 L557,81.9 L558,83.4 L559,85 L560,86.5 L561,88.1 L562,89.7 L563,91.3 L564,92.9 L565,94.5 L566,96 L567,97.5 L568,99 L569,100.5 L570,102 L571,103.4 L572,104.8 L573,106.2 L574,107.6 L575,109 L576,110.3 L577,111.6 L578,112.9 L579,114.1 L580,115.4 L581,116.6 L582,117.8 L583,118.9 L584,120 L585,121.1 L586,122.2 L587,123.3 L588,124.3 L589,125.3 L590,126.3 L591,127.3 L592,128.3 L593,129.2 L594,130.1 L595,131 L596,131.9 L597,132.8 L598,133.6 L599,134.4 L600,135.2 L601,136 L602,136.8 L603,137.5 L604,138.3 L605,139 L606,139.7 L607,140.3 L608,141 L609,141.6 L610,142.2 L611,142.8 L612,143.4 L613,143.9 L614,144.4 L615,144.9 L616,145.4 L617,145.9 L618,146.4 L619,146.9 L620,147.4 L621,147.8 L622,148.3 L623,148.7 L624,149.1 L625,149.5 L626,149.9 L627,150.2 L628,150.6 L629,150.9 L630,151.3 L631,151.6 L632,151.8 L633,152.1 L634,152.3 L635,152.6 L636,152.8 L637,152.9 L638,153.1 L639,153.2 L640,153.4 L641,153.5 L642,153.6 L643,153.7 L644,153.9 L645,154 L646,154.1 L647,154.1 L648,154.2 L649,154.3 L650,154.4 L651,154.4 L652,154.5 L653,154.6 L654,154.6 L655,154.7 L656,154.7 L657,154.7 L658,154.8 L659,154.8 L660,154.8 L661,154.8 L662,154.8 L663,154.8 L664,154.8 L665,154.8 L666,154.8 L667,154.8 L668,154.7 L669,154.7 L670,154.7" fill="none" stroke="#000088" stroke-width="1.5" stroke-linejoin="round"/>
</g>
<circle cx="617.9" cy="142.9" r="2.3" fill="#fff" stroke="#FF0000" stroke-width="1.3"/>
<path d="M617.9,120.5 V165.2" stroke="#FF0000" stroke-opacity="0.75" stroke-width="1.3"/>
<text x="388.6" y="69.05" font-size="18" font-weight="bold" fill="#000" textLength="70.9" lengthAdjust="spacingAndGlyphs">Viet Nam</text>
<defs><clipPath id="cbl"><rect x="35.4" y="368.4" width="289.6" height="242.60000000000002"/></clipPath></defs>
<rect x="35.4" y="368.4" width="289.6" height="242.60000000000002" fill="#E5E5E5"/>
<path d="M35.4,600.6 H325 M35.4,547.9 H325 M35.4,495.1 H325 M35.4,442.4 H325 M35.4,389.6 H325 M35.4,368.4 V611 M93.3,368.4 V611 M151.2,368.4 V611 M209.2,368.4 V611 M267.1,368.4 V611 M325,368.4 V611" stroke="#F7F7F7" stroke-width="1.1" fill="none"/>
<path d="M31.4,600.6 H34.4 M31.4,547.9 H34.4 M31.4,495.1 H34.4 M31.4,442.4 H34.4 M31.4,389.6 H34.4 M35.4,612 V615 M93.3,612 V615 M151.2,612 V615 M209.2,612 V615 M267.1,612 V615 M325,612 V615" stroke="#555" stroke-width="0.9" fill="none"/>
<text x="27.8" y="605" font-size="10.4" fill="#303030" stroke="#303030" stroke-width="0.2" text-anchor="end">0.0</text>
<text x="27.8" y="552.2" font-size="10.4" fill="#303030" stroke="#303030" stroke-width="0.2" text-anchor="end">0.5</text>
<text x="27.8" y="499.5" font-size="10.4" fill="#303030" stroke="#303030" stroke-width="0.2" text-anchor="end">1.0</text>
<text x="27.8" y="446.8" font-size="10.4" fill="#303030" stroke="#303030" stroke-width="0.2" text-anchor="end">1.5</text>
<text x="27.8" y="394" font-size="10.4" fill="#303030" stroke="#303030" stroke-width="0.2" text-anchor="end">2.0</text>
<text x="35.4" y="627" font-size="10.4" fill="#303030" stroke="#303030" stroke-width="0.2" text-anchor="middle">1970</text>
<text x="93.3" y="627" font-size="10.4" fill="#303030" stroke="#303030" stroke-width="0.2" text-anchor="middle">1980</text>
<text x="151.2" y="627" font-size="10.4" fill="#303030" stroke="#303030" stroke-width="0.2" text-anchor="middle">1990</text>
<text x="209.2" y="627" font-size="10.4" fill="#303030" stroke="#303030" stroke-width="0.2" text-anchor="middle">2000</text>
<text x="267.1" y="627" font-size="10.4" fill="#303030" stroke="#303030" stroke-width="0.2" text-anchor="middle">2010</text>
<text x="325" y="627" font-size="10.4" fill="#303030" stroke="#303030" stroke-width="0.2" text-anchor="middle">2020</text>
<text x="180.2" y="641.8" font-size="12.6" fill="#303030" stroke="#303030" stroke-width="0.2" text-anchor="middle" textLength="24.2" lengthAdjust="spacingAndGlyphs">time</text>
<text transform="translate(9.4,491.3) rotate(-90)" font-size="11.6" fill="#303030" stroke="#303030" stroke-width="0.2" text-anchor="middle" textLength="99.3" lengthAdjust="spacingAndGlyphs">perc_strain_rif_R</text>
<g clip-path="url(#cbl)">
<path d="M35.4,595.2 L36.4,595 L37.4,594.8 L38.4,594.6 L39.4,594.4 L40.4,594.2 L41.4,594 L42.4,593.7 L43.4,593.5 L44.4,593.2 L45.4,593 L46.4,592.7 L47.4,592.4 L48.4,592.1 L49.4,591.8 L50.4,591.5 L51.4,591.2 L52.4,590.8 L53.4,590.5 L54.4,590.1 L55.4,589.8 L56.4,589.4 L57.4,589 L58.4,588.6 L59.4,588.2 L60.4,587.8 L61.4,587.3 L62.4,586.9 L63.4,586.4 L64.4,586 L65.4,585.5 L66.4,585 L67.4,584.4 L68.4,583.9 L69.4,583.3 L70.4,582.6 L71.4,582 L72.4,581.3 L73.4,580.5 L74.4,579.8 L75.4,579 L76.4,578.1 L77.4,577.3 L78.4,576.4 L79.4,575.5 L80.4,574.5 L81.4,573.5 L82.4,572.5 L83.4,571.5 L84.4,570.4 L85.4,569.2 L86.4,568.1 L87.4,566.9 L88.4,565.7 L89.4,564.4 L90.4,563.1 L91.4,561.7 L92.4,560.4 L93.4,559 L94.4,557.4 L95.4,555.8 L96.4,554.1 L97.4,552.2 L98.4,550.4 L99.4,548.5 L100.4,546.5 L101.4,544.5 L102.4,542.5 L103.4,540.3 L104.4,538.2 L105.4,535.9 L106.4,533.7 L107.4,531.4 L108.4,529 L109.4,526.6 L110.4,524.2 L111.4,521.7 L112.4,519.2 L113.4,516.6 L114.4,514 L115.4,511.4 L116.4,508.7 L117.4,506 L118.4,503.3 L119.4,500.6 L120.4,497.8 L121.4,495.1 L122.4,492.4 L123.4,489.6 L124.4,486.8 L125.4,484 L126.4,481.2 L127.4,478.4 L128.4,475.5 L129.4,472.7 L130.4,469.8 L131.4,467 L132.4,464.2 L133.4,461.3 L134.4,458.5 L135.4,455.7 L136.4,452.9 L137.4,450.1 L138.4,447.3 L139.4,444.6 L140.4,441.9 L141.4,439.2 L142.4,436.5 L143.4,433.9 L144.4,431.3 L145.4,428.7 L146.4,426.1 L147.4,423.6 L148.4,421.1 L149.4,418.7 L150.4,416.3 L151.4,414 L152.4,411.7 L153.4,409.5 L154.4,407.3 L155.4,405.3 L156.4,403.2 L157.4,401.3 L158.4,399.4 L159.4,397.6 L160.4,395.9 L161.4,394.2 L162.4,392.6 L163.4,391.2 L164.4,389.8 L165.4,388.4 L166.4,387.2 L167.4,386 L168.4,385 L169.4,384.1 L170.4,383.3 L171.4,382.6 L172.4,381.9 L173.4,381.3 L174.4,380.8 L175.4,380.3 L176.4,379.9 L177.4,379.6 L178.4,379.4 L179.4,379.3 L180.4,379.3 L181.4,379.4 L182.4,379.5 L183.4,379.8 L184.4,380.1 L185.4,380.5 L186.4,381 L187.4,381.6 L188.4,382.2 L189.4,382.8 L190.4,383.5 L191.4,384.3 L192.4,385.1 L193.4,386 L194.4,387.1 L195.4,388.2 L196.4,389.4 L197.4,390.7 L198.4,392 L199.4,393.4 L200.4,394.8 L201.4,396.3 L202.4,397.8 L203.4,399.4 L204.4,401 L205.4,402.7 L206.4,404.4 L207.4,406.1 L208.4,407.9 L209.4,409.7 L210.4,411.6 L211.4,413.4 L212.4,415.3 L213.4,417.2 L214.4,419.1 L215.4,421.1 L216.4,423 L217.4,425 L218.4,427 L219.4,429 L220.4,430.9 L221.4,432.9 L222.4,434.9 L223.4,436.8 L224.4,438.7 L225.4,440.6 L226.4,442.5 L227.4,444.4 L228.4,446.3 L229.4,448.2 L230.4,450 L231.4,451.9 L232.4,453.6 L233.4,455.4 L234.4,457.1 L235.4,458.8 L236.4,460.4 L237.4,462 L238.4,463.5 L239.4,465 L240.4,466.5 L241.4,467.8 L242.4,469.1 L243.4,470.4 L244.4,471.6 L245.4,472.8 L246.4,473.9 L247.4,474.9 L248.4,475.9 L249.4,476.8 L250.4,477.7 L251.4,478.5 L252.4,479.4 L253.4,480.1 L254.4,480.9 L255.4,481.6 L256.4,482.2 L257.4,482.8 L258.4,483.4 L259.4,483.9 L260.4,484.4 L261.4,484.9 L262.4,485.3 L263.4,485.6 L264.4,486 L265.4,486.3 L266.4,486.6 L267.4,486.9 L268.4,487.2 L269.4,487.4 L270.4,487.7 L271.4,487.9 L272.4,488.1 L273.4,488.3 L274.4,488.4 L275.4,488.6 L276.4,488.7 L277.4,488.7 L278.4,488.8 L279.4,488.8 L280.4,488.9 L281.4,488.9 L282.4,489 L283.4,489 L284.4,489 L285.4,489 L286.4,489.1 L287.4,489.1 L288.4,489.1 L289.4,489.1 L290.4,489.1 L291.4,489.1 L292.4,489.1 L293.4,489.1 L294.4,489.1 L295.4,489 L296.4,489 L297.4,489 L298.4,489 L299.4,489 L300.4,488.9 L301.4,488.9 L302.4,488.9 L303.4,488.8 L304.4,488.8 L305.4,488.8 L306.4,488.7 L307.4,488.7 L308.4,488.6 L309.4,488.5 L310.4,488.4 L311.4,488.4 L312.4,488.3 L313.4,488.2 L314.4,488.1 L315.4,488 L316.4,488 L317.4,487.9 L318.4,487.8 L319.4,487.7 L320.4,487.6 L321.4,487.5 L322.4,487.4 L323.4,487.3 L324.4,487.2 L325,487.1 L325,526.3 L324.4,526.3 L323.4,526.2 L322.4,526.2 L321.4,526.2 L320.4,526.2 L319.4,526.2 L318.4,526.2 L317.4,526.2 L316.4,526.1 L315.4,526.1 L314.4,526.1 L313.4,526.1 L312.4,526.1 L311.4,526.1 L310.4,526.1 L309.4,526.1 L308.4,526.1 L307.4,526.1 L306.4,526 L305.4,526 L304.4,526 L303.4,526 L302.4,526 L301.4,526 L300.4,526 L299.4,526 L298.4,525.9 L297.4,525.9 L296.4,525.9 L295.4,525.9 L294.4,525.9 L293.4,525.8 L292.4,525.8 L291.4,525.8 L290.4,525.8 L289.4,525.7 L288.4,525.7 L287.4,525.6 L286.4,525.6 L285.4,525.6 L284.4,525.5 L283.4,525.5 L282.4,525.4 L281.4,525.4 L280.4,525.3 L279.4,525.2 L278.4,525.2 L277.4,525.1 L276.4,525 L275.4,524.9 L274.4,524.8 L273.4,524.7 L272.4,524.6 L271.4,524.4 L270.4,524.3 L269.4,524.2 L268.4,524 L267.4,523.9 L266.4,523.7 L265.4,523.5 L264.4,523.4 L263.4,523.2 L262.4,523 L261.4,522.8 L260.4,522.6 L259.4,522.4 L258.4,522.1 L257.4,521.9 L256.4,521.6 L255.4,521.4 L254.4,521.1 L253.4,520.8 L252.4,520.5 L251.4,520.2 L250.4,519.9 L249.4,519.6 L248.4,519.3 L247.4,518.9 L246.4,518.6 L245.4,518.2 L244.4,517.8 L243.4,517.4 L242.4,517 L241.4,516.6 L240.4,516.2 L239.4,515.7 L238.4,515.3 L237.4,514.8 L236.4,514.3 L235.4,513.8 L234.4,513.3 L233.4,512.8 L232.4,512.2 L231.4,511.7 L230.4,511.1 L229.4,510.5 L228.4,509.9 L227.4,509.3 L226.4,508.6 L225.4,508 L224.4,507.3 L223.4,506.6 L222.4,505.9 L221.4,505.2 L220.4,504.4 L219.4,503.6 L218.4,502.9 L217.4,502 L216.4,501.2 L215.4,500.4 L214.4,499.5 L213.4,498.6 L212.4,497.7 L211.4,496.8 L210.4,495.9 L209.4,495 L208.4,494.1 L207.4,493.2 L206.4,492.3 L205.4,491.4 L204.4,490.5 L203.4,489.6 L202.4,488.7 L201.4,487.9 L200.4,487 L199.4,486.2 L198.4,485.5 L197.4,484.7 L196.4,483.9 L195.4,483.2 L194.4,482.5 L193.4,481.9 L192.4,481.3 L191.4,480.8 L190.4,480.3 L189.4,480 L188.4,479.6 L187.4,479.3 L186.4,479.1 L185.4,478.8 L184.4,478.7 L183.4,478.5 L182.4,478.4 L181.4,478.3 L180.4,478.3 L179.4,478.3 L178.4,478.4 L177.4,478.5 L176.4,478.8 L175.4,479.1 L174.4,479.4 L173.4,479.8 L172.4,480.3 L171.4,480.8 L170.4,481.3 L169.4,481.9 L168.4,482.5 L167.4,483.2 L166.4,484 L165.4,484.8 L164.4,485.7 L163.4,486.6 L162.4,487.6 L161.4,488.7 L160.4,489.8 L159.4,490.9 L158.4,492.1 L157.4,493.4 L156.4,494.7 L155.4,496.1 L154.4,497.5 L153.4,499 L152.4,500.6 L151.4,502.2 L150.4,503.9 L149.4,505.6 L148.4,507.4 L147.4,509.3 L146.4,511.2 L145.4,513.1 L144.4,515 L143.4,517 L142.4,519 L141.4,521.1 L140.4,523.1 L139.4,525.2 L138.4,527.3 L137.4,529.4 L136.4,531.5 L135.4,533.6 L134.4,535.7 L133.4,537.7 L132.4,539.8 L131.4,541.8 L130.4,543.8 L129.4,545.8 L128.4,547.8 L127.4,549.8 L126.4,551.7 L125.4,553.6 L124.4,555.5 L123.4,557.4 L122.4,559.2 L121.4,560.9 L120.4,562.7 L119.4,564.4 L118.4,566 L117.4,567.6 L116.4,569.2 L115.4,570.6 L114.4,571.9 L113.4,573.2 L112.4,574.5 L111.4,575.7 L110.4,576.9 L109.4,578.1 L108.4,579.3 L107.4,580.4 L106.4,581.4 L105.4,582.5 L104.4,583.5 L103.4,584.4 L102.4,585.3 L101.4,586.2 L100.4,587 L99.4,587.7 L98.4,588.4 L97.4,589.1 L96.4,589.7 L95.4,590.3 L94.4,590.8 L93.4,591.2 L92.4,591.6 L91.4,592 L90.4,592.3 L89.4,592.7 L88.4,593 L87.4,593.2 L86.4,593.5 L85.4,593.8 L84.4,594 L83.4,594.2 L82.4,594.4 L81.4,594.6 L80.4,594.8 L79.4,594.9 L78.4,595.1 L77.4,595.2 L76.4,595.3 L75.4,595.5 L74.4,595.6 L73.4,595.7 L72.4,595.8 L71.4,595.8 L70.4,595.9 L69.4,596 L68.4,596.1 L67.4,596.1 L66.4,596.2 L65.4,596.3 L64.4,596.3 L63.4,596.4 L62.4,596.5 L61.4,596.5 L60.4,596.6 L59.4,596.6 L58.4,596.7 L57.4,596.8 L56.4,596.8 L55.4,596.9 L54.4,597 L53.4,597 L52.4,597.1 L51.4,597.2 L50.4,597.3 L49.4,597.3 L48.4,597.4 L47.4,597.5 L46.4,597.6 L45.4,597.8 L44.4,597.9 L43.4,598 L42.4,598.1 L41.4,598.3 L40.4,598.4 L39.4,598.6 L38.4,598.8 L37.4,598.9 L36.4,599.1 L35.4,599.3 Z" fill="#B0C4DE"/>
<path d="M35.4,596.4 L36.4,596.3 L37.4,596.2 L38.4,596 L39.4,595.9 L40.4,595.7 L41.4,595.6 L42.4,595.4 L43.4,595.3 L44.4,595.1 L45.4,594.9 L46.4,594.7 L47.4,594.5 L48.4,594.3 L49.4,594.1 L50.4,593.9 L51.4,593.7 L52.4,593.4 L53.4,593.2 L54.4,593 L55.4,592.7 L56.4,592.4 L57.4,592.2 L58.4,591.9 L59.4,591.6 L60.4,591.3 L61.4,591 L62.4,590.7 L63.4,590.4 L64.4,590.1 L65.4,589.7 L66.4,589.3 L67.4,589 L68.4,588.6 L69.4,588.1 L70.4,587.7 L71.4,587.2 L72.4,586.7 L73.4,586.2 L74.4,585.6 L75.4,585.1 L76.4,584.5 L77.4,583.8 L78.4,583.2 L79.4,582.5 L80.4,581.8 L81.4,581.1 L82.4,580.4 L83.4,579.6 L84.4,578.8 L85.4,578 L86.4,577.1 L87.4,576.3 L88.4,575.3 L89.4,574.4 L90.4,573.5 L91.4,572.5 L92.4,571.5 L93.4,570.4 L94.4,569.3 L95.4,568.1 L96.4,566.9 L97.4,565.6 L98.4,564.2 L99.4,562.8 L100.4,561.4 L101.4,559.9 L102.4,558.3 L103.4,556.7 L104.4,555 L105.4,553.4 L106.4,551.6 L107.4,549.9 L108.4,548.1 L109.4,546.2 L110.4,544.3 L111.4,542.3 L112.4,540.3 L113.4,538.2 L114.4,536.1 L115.4,533.9 L116.4,531.7 L117.4,529.5 L118.4,527.2 L119.4,524.9 L120.4,522.5 L121.4,520.2 L122.4,517.8 L123.4,515.4 L124.4,513 L125.4,510.6 L126.4,508.1 L127.4,505.7 L128.4,503.2 L129.4,500.8 L130.4,498.4 L131.4,495.9 L132.4,493.5 L133.4,491 L134.4,488.5 L135.4,486 L136.4,483.5 L137.4,481 L138.4,478.5 L139.4,476 L140.4,473.5 L141.4,471.1 L142.4,468.6 L143.4,466.2 L144.4,463.8 L145.4,461.4 L146.4,459 L147.4,456.7 L148.4,454.4 L149.4,452.1 L150.4,449.8 L151.4,447.6 L152.4,445.5 L153.4,443.4 L154.4,441.5 L155.4,439.6 L156.4,437.7 L157.4,435.9 L158.4,434.1 L159.4,432.3 L160.4,430.7 L161.4,429 L162.4,427.5 L163.4,426 L164.4,424.5 L165.4,423.2 L166.4,421.9 L167.4,420.7 L168.4,419.6 L169.4,418.6 L170.4,417.7 L171.4,416.9 L172.4,416 L173.4,415.3 L174.4,414.6 L175.4,414 L176.4,413.5 L177.4,413.1 L178.4,412.8 L179.4,412.6 L180.4,412.6 L181.4,412.6 L182.4,412.7 L183.4,412.9 L184.4,413.1 L185.4,413.4 L186.4,413.8 L187.4,414.3 L188.4,414.8 L189.4,415.4 L190.4,416 L191.4,416.7 L192.4,417.5 L193.4,418.5 L194.4,419.7 L195.4,420.9 L196.4,422.2 L197.4,423.5 L198.4,424.9 L199.4,426.4 L200.4,427.8 L201.4,429.3 L202.4,430.8 L203.4,432.3 L204.4,433.8 L205.4,435.3 L206.4,436.9 L207.4,438.4 L208.4,439.9 L209.4,441.4 L210.4,443 L211.4,444.5 L212.4,446 L213.4,447.5 L214.4,449 L215.4,450.5 L216.4,451.9 L217.4,453.4 L218.4,454.8 L219.4,456.3 L220.4,457.7 L221.4,459.1 L222.4,460.5 L223.4,461.9 L224.4,463.3 L225.4,464.6 L226.4,466 L227.4,467.3 L228.4,468.6 L229.4,469.9 L230.4,471.2 L231.4,472.4 L232.4,473.6 L233.4,474.8 L234.4,476 L235.4,477.1 L236.4,478.2 L237.4,479.3 L238.4,480.4 L239.4,481.4 L240.4,482.4 L241.4,483.4 L242.4,484.3 L243.4,485.2 L244.4,486.1 L245.4,487 L246.4,487.8 L247.4,488.6 L248.4,489.3 L249.4,490 L250.4,490.7 L251.4,491.4 L252.4,492.1 L253.4,492.7 L254.4,493.3 L255.4,493.9 L256.4,494.4 L257.4,494.9 L258.4,495.4 L259.4,495.9 L260.4,496.4 L261.4,496.8 L262.4,497.1 L263.4,497.5 L264.4,497.8 L265.4,498.2 L266.4,498.5 L267.4,498.8 L268.4,499.1 L269.4,499.4 L270.4,499.7 L271.4,499.9 L272.4,500.1 L273.4,500.3 L274.4,500.5 L275.4,500.7 L276.4,500.8 L277.4,500.9 L278.4,500.9 L279.4,501 L280.4,501 L281.4,501.1 L282.4,501.1 L283.4,501.1 L284.4,501.2 L285.4,501.2 L286.4,501.2 L287.4,501.2 L288.4,501.2 L289.4,501.2 L290.4,501.2 L291.4,501.2 L292.4,501.2 L293.4,501.2 L294.4,501.2 L295.4,501.1 L296.4,501.1 L297.4,501.1 L298.4,501.1 L299.4,501.1 L300.4,501 L301.4,501 L302.4,501 L303.4,500.9 L304.4,500.9 L305.4,500.9 L306.4,500.8 L307.4,500.8 L308.4,500.8 L309.4,500.7 L310.4,500.7 L311.4,500.7 L312.4,500.6 L313.4,500.6 L314.4,500.6 L315.4,500.6 L316.4,500.5 L317.4,500.5 L318.4,500.5 L319.4,500.5 L320.4,500.5 L321.4,500.5 L322.4,500.5 L323.4,500.5 L324.4,500.5 L325,500.5 L325,515.6 L324.4,515.6 L323.4,515.5 L322.4,515.5 L321.4,515.5 L320.4,515.5 L319.4,515.5 L318.4,515.5 L317.4,515.5 L316.4,515.5 L315.4,515.5 L314.4,515.5 L313.4,515.5 L312.4,515.5 L311.4,515.5 L310.4,515.5 L309.4,515.5 L308.4,515.5 L307.4,515.5 L306.4,515.5 L305.4,515.5 L304.4,515.5 L303.4,515.5 L302.4,515.5 L301.4,515.5 L300.4,515.5 L299.4,515.5 L298.4,515.5 L297.4,515.5 L296.4,515.4 L295.4,515.4 L294.4,515.4 L293.4,515.3 L292.4,515.3 L291.4,515.3 L290.4,515.2 L289.4,515.2 L288.4,515.1 L287.4,515 L286.4,515 L285.4,514.9 L284.4,514.8 L283.4,514.7 L282.4,514.6 L281.4,514.5 L280.4,514.4 L279.4,514.3 L278.4,514.2 L277.4,514.1 L276.4,514 L275.4,513.8 L274.4,513.6 L273.4,513.5 L272.4,513.3 L271.4,513.1 L270.4,512.8 L269.4,512.6 L268.4,512.4 L267.4,512.1 L266.4,511.8 L265.4,511.6 L264.4,511.3 L263.4,511 L262.4,510.7 L261.4,510.4 L260.4,510 L259.4,509.7 L258.4,509.3 L257.4,508.9 L256.4,508.5 L255.4,508.1 L254.4,507.7 L253.4,507.2 L252.4,506.7 L251.4,506.3 L250.4,505.8 L249.4,505.3 L248.4,504.7 L247.4,504.2 L246.4,503.6 L245.4,503.1 L244.4,502.4 L243.4,501.8 L242.4,501.2 L241.4,500.5 L240.4,499.8 L239.4,499.1 L238.4,498.4 L237.4,497.7 L236.4,496.9 L235.4,496.2 L234.4,495.4 L233.4,494.6 L232.4,493.8 L231.4,492.9 L230.4,492.1 L229.4,491.2 L228.4,490.3 L227.4,489.4 L226.4,488.5 L225.4,487.6 L224.4,486.6 L223.4,485.7 L222.4,484.7 L221.4,483.7 L220.4,482.7 L219.4,481.7 L218.4,480.7 L217.4,479.6 L216.4,478.6 L215.4,477.5 L214.4,476.5 L213.4,475.4 L212.4,474.3 L211.4,473.2 L210.4,472.1 L209.4,471 L208.4,469.8 L207.4,468.7 L206.4,467.6 L205.4,466.4 L204.4,465.2 L203.4,464.1 L202.4,462.9 L201.4,461.8 L200.4,460.6 L199.4,459.4 L198.4,458.3 L197.4,457.2 L196.4,456.1 L195.4,455 L194.4,454 L193.4,453 L192.4,452.2 L191.4,451.5 L190.4,450.8 L189.4,450.2 L188.4,449.7 L187.4,449.1 L186.4,448.7 L185.4,448.2 L184.4,447.9 L183.4,447.6 L182.4,447.3 L181.4,447.1 L180.4,447 L179.4,446.9 L178.4,446.9 L177.4,447 L176.4,447.2 L175.4,447.5 L174.4,447.9 L173.4,448.3 L172.4,448.9 L171.4,449.4 L170.4,450.1 L169.4,450.7 L168.4,451.5 L167.4,452.3 L166.4,453.3 L165.4,454.3 L164.4,455.4 L163.4,456.6 L162.4,457.8 L161.4,459.1 L160.4,460.5 L159.4,461.9 L158.4,463.4 L157.4,464.9 L156.4,466.6 L155.4,468.3 L154.4,470.1 L153.4,472 L152.4,474 L151.4,476 L150.4,478 L149.4,480.1 L148.4,482.2 L147.4,484.3 L146.4,486.5 L145.4,488.6 L144.4,490.8 L143.4,493 L142.4,495.1 L141.4,497.4 L140.4,499.7 L139.4,502 L138.4,504.3 L137.4,506.7 L136.4,509 L135.4,511.4 L134.4,513.8 L133.4,516.2 L132.4,518.6 L131.4,521 L130.4,523.4 L129.4,525.8 L128.4,528.1 L127.4,530.4 L126.4,532.7 L125.4,534.9 L124.4,537.1 L123.4,539.3 L122.4,541.4 L121.4,543.4 L120.4,545.4 L119.4,547.2 L118.4,549.1 L117.4,550.8 L116.4,552.5 L115.4,554.2 L114.4,555.9 L113.4,557.5 L112.4,559.1 L111.4,560.6 L110.4,562.1 L109.4,563.6 L108.4,565 L107.4,566.4 L106.4,567.8 L105.4,569.1 L104.4,570.4 L103.4,571.6 L102.4,572.8 L101.4,574 L100.4,575.1 L99.4,576.1 L98.4,577.1 L97.4,578.1 L96.4,579 L95.4,579.9 L94.4,580.7 L93.4,581.5 L92.4,582.2 L91.4,582.9 L90.4,583.5 L89.4,584.2 L88.4,584.8 L87.4,585.4 L86.4,586 L85.4,586.5 L84.4,587 L83.4,587.6 L82.4,588 L81.4,588.5 L80.4,589 L79.4,589.4 L78.4,589.8 L77.4,590.2 L76.4,590.6 L75.4,591 L74.4,591.3 L73.4,591.7 L72.4,592 L71.4,592.3 L70.4,592.6 L69.4,592.8 L68.4,593.1 L67.4,593.4 L66.4,593.6 L65.4,593.8 L64.4,594 L63.4,594.3 L62.4,594.5 L61.4,594.7 L60.4,594.9 L59.4,595 L58.4,595.2 L57.4,595.4 L56.4,595.6 L55.4,595.8 L54.4,595.9 L53.4,596.1 L52.4,596.3 L51.4,596.4 L50.4,596.6 L49.4,596.7 L48.4,596.9 L47.4,597 L46.4,597.2 L45.4,597.3 L44.4,597.5 L43.4,597.6 L42.4,597.8 L41.4,597.9 L40.4,598 L39.4,598.2 L38.4,598.3 L37.4,598.5 L36.4,598.6 L35.4,598.7 Z" fill="#6495ED"/>
<path d="M35.4,598.2 L36.4,598.1 L37.4,598 L38.4,597.9 L39.4,597.7 L40.4,597.6 L41.4,597.5 L42.4,597.3 L43.4,597.2 L44.4,597 L45.4,596.8 L46.4,596.7 L47.4,596.5 L48.4,596.3 L49.4,596.1 L50.4,595.9 L51.4,595.7 L52.4,595.5 L53.4,595.3 L54.4,595.1 L55.4,594.8 L56.4,594.6 L57.4,594.3 L58.4,594.1 L59.4,593.8 L60.4,593.6 L61.4,593.3 L62.4,593 L63.4,592.7 L64.4,592.5 L65.4,592.1 L66.4,591.8 L67.4,591.5 L68.4,591.1 L69.4,590.7 L70.4,590.3 L71.4,589.9 L72.4,589.5 L73.4,589 L74.4,588.5 L75.4,588 L76.4,587.5 L77.4,587 L78.4,586.4 L79.4,585.8 L80.4,585.2 L81.4,584.6 L82.4,584 L83.4,583.3 L84.4,582.6 L85.4,581.9 L86.4,581.1 L87.4,580.4 L88.4,579.6 L89.4,578.8 L90.4,578 L91.4,577.1 L92.4,576.2 L93.4,575.3 L94.4,574.4 L95.4,573.4 L96.4,572.3 L97.4,571.2 L98.4,570 L99.4,568.8 L100.4,567.6 L101.4,566.3 L102.4,565 L103.4,563.6 L104.4,562.2 L105.4,560.7 L106.4,559.2 L107.4,557.7 L108.4,556.1 L109.4,554.5 L110.4,552.9 L111.4,551.3 L112.4,549.6 L113.4,547.8 L114.4,546 L115.4,544.2 L116.4,542.3 L117.4,540.3 L118.4,538.3 L119.4,536.3 L120.4,534.2 L121.4,532.1 L122.4,529.9 L123.4,527.7 L124.4,525.5 L125.4,523.3 L126.4,521 L127.4,518.8 L128.4,516.5 L129.4,514.2 L130.4,511.8 L131.4,509.5 L132.4,507.2 L133.4,504.9 L134.4,502.5 L135.4,500.2 L136.4,497.9 L137.4,495.6 L138.4,493.2 L139.4,490.9 L140.4,488.5 L141.4,486.1 L142.4,483.8 L143.4,481.4 L144.4,479.1 L145.4,476.7 L146.4,474.4 L147.4,472.2 L148.4,469.9 L149.4,467.6 L150.4,465.4 L151.4,463.2 L152.4,461.1 L153.4,459 L154.4,456.9 L155.4,454.8 L156.4,452.9 L157.4,450.9 L158.4,449.1 L159.4,447.2 L160.4,445.5 L161.4,443.8 L162.4,442.2 L163.4,440.6 L164.4,439.2 L165.4,437.7 L166.4,436.4 L167.4,435.1 L168.4,434 L169.4,433.1 L170.4,432.2 L171.4,431.5 L172.4,430.8 L173.4,430.2 L174.4,429.6 L175.4,429.2 L176.4,428.8 L177.4,428.4 L178.4,428.2 L179.4,428.1 L180.4,428.1 L181.4,428.1 L182.4,428.3 L183.4,428.5 L184.4,428.9 L185.4,429.3 L186.4,429.8 L187.4,430.3 L188.4,430.9 L189.4,431.6 L190.4,432.3 L191.4,433 L192.4,433.8 L193.4,434.7 L194.4,435.7 L195.4,436.8 L196.4,437.9 L197.4,439 L198.4,440.2 L199.4,441.5 L200.4,442.8 L201.4,444.1 L202.4,445.4 L203.4,446.8 L204.4,448.2 L205.4,449.6 L206.4,451.1 L207.4,452.5 L208.4,454 L209.4,455.5 L210.4,457 L211.4,458.5 L212.4,460 L213.4,461.4 L214.4,462.9 L215.4,464.4 L216.4,465.8 L217.4,467.2 L218.4,468.6 L219.4,470 L220.4,471.3 L221.4,472.6 L222.4,473.9 L223.4,475.2 L224.4,476.4 L225.4,477.6 L226.4,478.8 L227.4,479.9 L228.4,481 L229.4,482.1 L230.4,483.2 L231.4,484.3 L232.4,485.3 L233.4,486.3 L234.4,487.2 L235.4,488.2 L236.4,489.1 L237.4,490 L238.4,490.8 L239.4,491.7 L240.4,492.5 L241.4,493.3 L242.4,494 L243.4,494.8 L244.4,495.5 L245.4,496.2 L246.4,496.8 L247.4,497.5 L248.4,498.1 L249.4,498.7 L250.4,499.2 L251.4,499.8 L252.4,500.3 L253.4,500.8 L254.4,501.3 L255.4,501.8 L256.4,502.3 L257.4,502.7 L258.4,503.1 L259.4,503.5 L260.4,503.9 L261.4,504.2 L262.4,504.5 L263.4,504.8 L264.4,505.1 L265.4,505.4 L266.4,505.7 L267.4,506 L268.4,506.2 L269.4,506.5 L270.4,506.7 L271.4,506.9 L272.4,507.1 L273.4,507.3 L274.4,507.5 L275.4,507.6 L276.4,507.7 L277.4,507.8 L278.4,507.9 L279.4,508 L280.4,508 L281.4,508.1 L282.4,508.1 L283.4,508.2 L284.4,508.2 L285.4,508.2 L286.4,508.3 L287.4,508.3 L288.4,508.3 L289.4,508.3 L290.4,508.3 L291.4,508.4 L292.4,508.4 L293.4,508.4 L294.4,508.4 L295.4,508.4 L296.4,508.4 L297.4,508.3 L298.4,508.3 L299.4,508.3 L300.4,508.3 L301.4,508.3 L302.4,508.3 L303.4,508.2 L304.4,508.2 L305.4,508.2 L306.4,508.2 L307.4,508.2 L308.4,508.1 L309.4,508.1 L310.4,508.1 L311.4,508.1 L312.4,508 L313.4,508 L314.4,508 L315.4,508 L316.4,507.9 L317.4,507.9 L318.4,507.9 L319.4,507.9 L320.4,507.9 L321.4,507.8 L322.4,507.8 L323.4,507.8 L324.4,507.8 L325,507.8" fill="none" stroke="#000088" stroke-width="1.5" stroke-linejoin="round"/>
</g>
<circle cx="249.4" cy="494.2" r="2.3" fill="#fff" stroke="#FF0000" stroke-width="1.3"/>
<path d="M249.4,462.8 V526.1" stroke="#FF0000" stroke-opacity="0.75" stroke-width="1.3"/>
<circle cx="302" cy="514.1" r="2.3" fill="#fff" stroke="#FF0000" stroke-width="1.3"/>
<path d="M302,474.7 V554.5" stroke="#FF0000" stroke-opacity="0.75" stroke-width="1.3"/>
<text x="47.7" y="407.5" font-size="18" font-weight="bold" fill="#000" textLength="82.5" lengthAdjust="spacingAndGlyphs">Philippines</text>
<defs><clipPath id="cbr"><rect x="385.3" y="370.1" width="288.7" height="240.89999999999998"/></clipPath></defs>
<rect x="385.3" y="370.1" width="288.7" height="240.89999999999998" fill="#E5E5E5"/>
<path d="M385.3,601.3 H674 M385.3,563.1 H674 M385.3,524.9 H674 M385.3,486.8 H674 M385.3,448.6 H674 M385.3,410.4 H674 M385.3,372.2 H674 M385.3,370.1 V611 M443,370.1 V611 M500.8,370.1 V611 M558.5,370.1 V611 M616.3,370.1 V611 M674,370.1 V611" stroke="#F7F7F7" stroke-width="1.1" fill="none"/>
<path d="M381.3,601.3 H384.3 M381.3,563.1 H384.3 M381.3,524.9 H384.3 M381.3,486.8 H384.3 M381.3,448.6 H384.3 M381.3,410.4 H384.3 M381.3,372.2 H384.3 M385.3,612 V615 M443,612 V615 M500.8,612 V615 M558.5,612 V615 M616.3,612 V615 M674,612 V615" stroke="#555" stroke-width="0.9" fill="none"/>
<text x="377.7" y="605.7" font-size="10.4" fill="#303030" stroke="#303030" stroke-width="0.2" text-anchor="end">0.0</text>
<text x="377.7" y="567.5" font-size="10.4" fill="#303030" stroke="#303030" stroke-width="0.2" text-anchor="end">0.1</text>
<text x="377.7" y="529.3" font-size="10.4" fill="#303030" stroke="#303030" stroke-width="0.2" text-anchor="end">0.2</text>
<text x="377.7" y="491.2" font-size="10.4" fill="#303030" stroke="#303030" stroke-width="0.2" text-anchor="end">0.3</text>
<text x="377.7" y="453" font-size="10.4" fill="#303030" stroke="#303030" stroke-width="0.2" text-anchor="end">0.4</text>
<text x="377.7" y="414.8" font-size="10.4" fill="#303030" stroke="#303030" stroke-width="0.2" text-anchor="end">0.5</text>
<text x="377.7" y="376.6" font-size="10.4" fill="#303030" stroke="#303030" stroke-width="0.2" text-anchor="end">0.6</text>
<text x="385.3" y="627" font-size="10.4" fill="#303030" stroke="#303030" stroke-width="0.2" text-anchor="middle">1970</text>
<text x="443" y="627" font-size="10.4" fill="#303030" stroke="#303030" stroke-width="0.2" text-anchor="middle">1980</text>
<text x="500.8" y="627" font-size="10.4" fill="#303030" stroke="#303030" stroke-width="0.2" text-anchor="middle">1990</text>
<text x="558.5" y="627" font-size="10.4" fill="#303030" stroke="#303030" stroke-width="0.2" text-anchor="middle">2000</text>
<text x="616.3" y="627" font-size="10.4" fill="#303030" stroke="#303030" stroke-width="0.2" text-anchor="middle">2010</text>
<text x="674" y="627" font-size="10.4" fill="#303030" stroke="#303030" stroke-width="0.2" text-anchor="middle">2020</text>
<text x="529.6" y="641.8" font-size="12.6" fill="#303030" stroke="#303030" stroke-width="0.2" text-anchor="middle" textLength="24.2" lengthAdjust="spacingAndGlyphs">time</text>
<text transform="translate(358.1,492) rotate(-90)" font-size="11.6" fill="#303030" stroke="#303030" stroke-width="0.2" text-anchor="middle" textLength="99.3" lengthAdjust="spacingAndGlyphs">perc_strain_rif_R</text>
<g clip-path="url(#cbr)">
<path d="M385.3,596.8 L386.3,596.6 L387.3,596.3 L388.3,596 L389.3,595.7 L390.3,595.4 L391.3,595.1 L392.3,594.7 L393.3,594.4 L394.3,594.1 L395.3,593.7 L396.3,593.4 L397.3,593 L398.3,592.6 L399.3,592.2 L400.3,591.9 L401.3,591.5 L402.3,591.1 L403.3,590.6 L404.3,590.2 L405.3,589.8 L406.3,589.3 L407.3,588.9 L408.3,588.4 L409.3,588 L410.3,587.5 L411.3,587 L412.3,586.6 L413.3,586.1 L414.3,585.6 L415.3,585.1 L416.3,584.5 L417.3,584 L418.3,583.5 L419.3,582.9 L420.3,582.4 L421.3,581.8 L422.3,581.3 L423.3,580.7 L424.3,580.1 L425.3,579.6 L426.3,579 L427.3,578.4 L428.3,577.7 L429.3,577.1 L430.3,576.5 L431.3,575.9 L432.3,575.2 L433.3,574.6 L434.3,573.9 L435.3,573.2 L436.3,572.6 L437.3,571.9 L438.3,571.1 L439.3,570.4 L440.3,569.6 L441.3,568.9 L442.3,568.1 L443.3,567.2 L444.3,566.4 L445.3,565.5 L446.3,564.6 L447.3,563.6 L448.3,562.6 L449.3,561.6 L450.3,560.5 L451.3,559.4 L452.3,558.3 L453.3,557.1 L454.3,555.8 L455.3,554.5 L456.3,553.2 L457.3,551.8 L458.3,550.3 L459.3,548.9 L460.3,547.3 L461.3,545.7 L462.3,544.1 L463.3,542.5 L464.3,540.8 L465.3,539 L466.3,537.3 L467.3,535.4 L468.3,533.6 L469.3,531.6 L470.3,529.7 L471.3,527.7 L472.3,525.6 L473.3,523.6 L474.3,521.4 L475.3,519.3 L476.3,517.1 L477.3,514.9 L478.3,512.6 L479.3,510.3 L480.3,508 L481.3,505.7 L482.3,503.3 L483.3,500.9 L484.3,498.5 L485.3,496 L486.3,493.6 L487.3,491.1 L488.3,488.6 L489.3,486 L490.3,483.5 L491.3,480.9 L492.3,478.2 L493.3,475.6 L494.3,472.9 L495.3,470.2 L496.3,467.5 L497.3,464.8 L498.3,462.1 L499.3,459.5 L500.3,456.8 L501.3,454.1 L502.3,451.5 L503.3,448.9 L504.3,446.3 L505.3,443.7 L506.3,441.1 L507.3,438.5 L508.3,436 L509.3,433.4 L510.3,431 L511.3,428.5 L512.3,426.1 L513.3,423.7 L514.3,421.3 L515.3,419.1 L516.3,416.8 L517.3,414.6 L518.3,412.5 L519.3,410.4 L520.3,408.4 L521.3,406.5 L522.3,404.6 L523.3,402.8 L524.3,401.1 L525.3,399.3 L526.3,397.7 L527.3,396.1 L528.3,394.6 L529.3,393.2 L530.3,391.9 L531.3,390.6 L532.3,389.4 L533.3,388.3 L534.3,387.2 L535.3,386.2 L536.3,385.4 L537.3,384.6 L538.3,384 L539.3,383.4 L540.3,382.8 L541.3,382.4 L542.3,381.9 L543.3,381.6 L544.3,381.3 L545.3,381.2 L546.3,381.1 L547.3,381.2 L548.3,381.3 L549.3,381.6 L550.3,381.9 L551.3,382.4 L552.3,383 L553.3,383.6 L554.3,384.4 L555.3,385.2 L556.3,386 L557.3,387 L558.3,388 L559.3,389.1 L560.3,390.3 L561.3,391.8 L562.3,393.3 L563.3,394.9 L564.3,396.6 L565.3,398.3 L566.3,400.1 L567.3,402 L568.3,403.9 L569.3,405.9 L570.3,407.9 L571.3,409.9 L572.3,412 L573.3,414.1 L574.3,416.2 L575.3,418.4 L576.3,420.6 L577.3,422.7 L578.3,424.9 L579.3,427.1 L580.3,429.3 L581.3,431.5 L582.3,433.7 L583.3,435.9 L584.3,438.1 L585.3,440.2 L586.3,442.4 L587.3,444.6 L588.3,446.7 L589.3,448.7 L590.3,450.8 L591.3,452.9 L592.3,455 L593.3,457 L594.3,459.1 L595.3,461.1 L596.3,463.1 L597.3,465 L598.3,467 L599.3,468.9 L600.3,470.7 L601.3,472.5 L602.3,474.3 L603.3,476 L604.3,477.7 L605.3,479.2 L606.3,480.8 L607.3,482.2 L608.3,483.6 L609.3,484.9 L610.3,486.2 L611.3,487.4 L612.3,488.5 L613.3,489.6 L614.3,490.7 L615.3,491.7 L616.3,492.7 L617.3,493.6 L618.3,494.5 L619.3,495.4 L620.3,496.2 L621.3,496.9 L622.3,497.6 L623.3,498.2 L624.3,498.8 L625.3,499.3 L626.3,499.8 L627.3,500.2 L628.3,500.6 L629.3,501 L630.3,501.3 L631.3,501.6 L632.3,501.9 L633.3,502.1 L634.3,502.4 L635.3,502.6 L636.3,502.8 L637.3,503 L638.3,503.1 L639.3,503.3 L640.3,503.4 L641.3,503.5 L642.3,503.6 L643.3,503.7 L644.3,503.8 L645.3,503.9 L646.3,504 L647.3,504.1 L648.3,504.2 L649.3,504.2 L650.3,504.3 L651.3,504.4 L652.3,504.4 L653.3,504.5 L654.3,504.6 L655.3,504.6 L656.3,504.7 L657.3,504.7 L658.3,504.8 L659.3,504.9 L660.3,505 L661.3,505 L662.3,505.1 L663.3,505.2 L664.3,505.3 L665.3,505.4 L666.3,505.5 L667.3,505.6 L668.3,505.7 L669.3,505.9 L670.3,506 L671.3,506.2 L672.3,506.3 L673.3,506.5 L674,506.6 L674,529.9 L673.3,529.8 L672.3,529.6 L671.3,529.4 L670.3,529.3 L669.3,529.1 L668.3,529 L667.3,528.8 L666.3,528.7 L665.3,528.6 L664.3,528.4 L663.3,528.3 L662.3,528.2 L661.3,528.1 L660.3,528 L659.3,527.9 L658.3,527.8 L657.3,527.7 L656.3,527.6 L655.3,527.5 L654.3,527.4 L653.3,527.3 L652.3,527.3 L651.3,527.2 L650.3,527.1 L649.3,527 L648.3,526.9 L647.3,526.8 L646.3,526.7 L645.3,526.6 L644.3,526.5 L643.3,526.4 L642.3,526.2 L641.3,526.1 L640.3,526 L639.3,525.9 L638.3,525.7 L637.3,525.6 L636.3,525.4 L635.3,525.2 L634.3,525 L633.3,524.8 L632.3,524.6 L631.3,524.4 L630.3,524.1 L629.3,523.9 L628.3,523.6 L627.3,523.3 L626.3,522.9 L625.3,522.6 L624.3,522.2 L623.3,521.7 L622.3,521.3 L621.3,520.8 L620.3,520.2 L619.3,519.7 L618.3,519.1 L617.3,518.5 L616.3,517.8 L615.3,517.2 L614.3,516.5 L613.3,515.8 L612.3,515.1 L611.3,514.4 L610.3,513.7 L609.3,513 L608.3,512.2 L607.3,511.4 L606.3,510.6 L605.3,509.7 L604.3,508.8 L603.3,508 L602.3,507 L601.3,506.1 L600.3,505.2 L599.3,504.2 L598.3,503.2 L597.3,502.2 L596.3,501.2 L595.3,500.2 L594.3,499.2 L593.3,498.1 L592.3,497.1 L591.3,496 L590.3,494.9 L589.3,493.8 L588.3,492.6 L587.3,491.5 L586.3,490.3 L585.3,489.2 L584.3,488 L583.3,486.8 L582.3,485.6 L581.3,484.4 L580.3,483.2 L579.3,481.9 L578.3,480.7 L577.3,479.5 L576.3,478.3 L575.3,477 L574.3,475.8 L573.3,474.5 L572.3,473.2 L571.3,472 L570.3,470.7 L569.3,469.5 L568.3,468.3 L567.3,467.1 L566.3,465.9 L565.3,464.8 L564.3,463.7 L563.3,462.7 L562.3,461.6 L561.3,460.6 L560.3,459.7 L559.3,458.8 L558.3,458 L557.3,457.2 L556.3,456.6 L555.3,456 L554.3,455.4 L553.3,454.9 L552.3,454.4 L551.3,454 L550.3,453.7 L549.3,453.5 L548.3,453.3 L547.3,453.2 L546.3,453.3 L545.3,453.4 L544.3,453.6 L543.3,454 L542.3,454.3 L541.3,454.8 L540.3,455.3 L539.3,455.9 L538.3,456.6 L537.3,457.2 L536.3,458 L535.3,458.9 L534.3,459.8 L533.3,460.9 L532.3,462 L531.3,463.2 L530.3,464.5 L529.3,465.7 L528.3,467.1 L527.3,468.5 L526.3,470 L525.3,471.5 L524.3,473.1 L523.3,474.7 L522.3,476.4 L521.3,478.1 L520.3,479.9 L519.3,481.7 L518.3,483.6 L517.3,485.5 L516.3,487.4 L515.3,489.3 L514.3,491.3 L513.3,493.3 L512.3,495.3 L511.3,497.4 L510.3,499.4 L509.3,501.5 L508.3,503.6 L507.3,505.7 L506.3,507.9 L505.3,510 L504.3,512.1 L503.3,514.1 L502.3,516.2 L501.3,518.3 L500.3,520.3 L499.3,522.3 L498.3,524.2 L497.3,526.2 L496.3,528.1 L495.3,530.1 L494.3,532 L493.3,533.9 L492.3,535.8 L491.3,537.7 L490.3,539.5 L489.3,541.4 L488.3,543.2 L487.3,545 L486.3,546.7 L485.3,548.4 L484.3,550.1 L483.3,551.8 L482.3,553.4 L481.3,555 L480.3,556.6 L479.3,558.1 L478.3,559.5 L477.3,561 L476.3,562.3 L475.3,563.7 L474.3,565 L473.3,566.2 L472.3,567.5 L471.3,568.7 L470.3,569.8 L469.3,570.9 L468.3,572 L467.3,573 L466.3,574 L465.3,575 L464.3,575.9 L463.3,576.8 L462.3,577.7 L461.3,578.5 L460.3,579.3 L459.3,580 L458.3,580.8 L457.3,581.5 L456.3,582.1 L455.3,582.8 L454.3,583.4 L453.3,584 L452.3,584.5 L451.3,585.1 L450.3,585.6 L449.3,586.1 L448.3,586.6 L447.3,587.1 L446.3,587.5 L445.3,587.9 L444.3,588.3 L443.3,588.7 L442.3,589.1 L441.3,589.4 L440.3,589.8 L439.3,590.1 L438.3,590.4 L437.3,590.7 L436.3,591 L435.3,591.3 L434.3,591.5 L433.3,591.8 L432.3,592 L431.3,592.3 L430.3,592.5 L429.3,592.7 L428.3,592.9 L427.3,593.1 L426.3,593.4 L425.3,593.6 L424.3,593.8 L423.3,594 L422.3,594.1 L421.3,594.3 L420.3,594.5 L419.3,594.7 L418.3,594.9 L417.3,595.1 L416.3,595.4 L415.3,595.6 L414.3,595.8 L413.3,596 L412.3,596.1 L411.3,596.3 L410.3,596.5 L409.3,596.7 L408.3,596.9 L407.3,597.1 L406.3,597.2 L405.3,597.4 L404.3,597.6 L403.3,597.8 L402.3,597.9 L401.3,598.1 L400.3,598.2 L399.3,598.3 L398.3,598.5 L397.3,598.6 L396.3,598.7 L395.3,598.7 L394.3,598.8 L393.3,598.9 L392.3,599 L391.3,599 L390.3,599.1 L389.3,599.1 L388.3,599.1 L387.3,599.1 L386.3,599.1 L385.3,599.1 Z" fill="#B0C4DE"/>
<path d="M385.3,597.6 L386.3,597.5 L387.3,597.4 L388.3,597.3 L389.3,597.1 L390.3,597 L391.3,596.9 L392.3,596.7 L393.3,596.6 L394.3,596.4 L395.3,596.2 L396.3,596 L397.3,595.8 L398.3,595.6 L399.3,595.4 L400.3,595.1 L401.3,594.9 L402.3,594.6 L403.3,594.4 L404.3,594.1 L405.3,593.8 L406.3,593.5 L407.3,593.2 L408.3,592.8 L409.3,592.5 L410.3,592.2 L411.3,591.8 L412.3,591.4 L413.3,591.1 L414.3,590.7 L415.3,590.3 L416.3,589.9 L417.3,589.5 L418.3,589.1 L419.3,588.7 L420.3,588.3 L421.3,587.9 L422.3,587.5 L423.3,587 L424.3,586.6 L425.3,586.1 L426.3,585.6 L427.3,585.2 L428.3,584.7 L429.3,584.2 L430.3,583.7 L431.3,583.1 L432.3,582.6 L433.3,582.1 L434.3,581.6 L435.3,581 L436.3,580.5 L437.3,579.9 L438.3,579.4 L439.3,578.8 L440.3,578.2 L441.3,577.5 L442.3,576.9 L443.3,576.2 L444.3,575.5 L445.3,574.8 L446.3,574.1 L447.3,573.3 L448.3,572.5 L449.3,571.7 L450.3,570.9 L451.3,570 L452.3,569.2 L453.3,568.2 L454.3,567.3 L455.3,566.3 L456.3,565.3 L457.3,564.2 L458.3,563.1 L459.3,562 L460.3,560.8 L461.3,559.6 L462.3,558.3 L463.3,557 L464.3,555.7 L465.3,554.3 L466.3,552.8 L467.3,551.3 L468.3,549.8 L469.3,548.2 L470.3,546.6 L471.3,544.9 L472.3,543.2 L473.3,541.5 L474.3,539.7 L475.3,537.8 L476.3,536 L477.3,534.1 L478.3,532.2 L479.3,530.3 L480.3,528.3 L481.3,526.3 L482.3,524.3 L483.3,522.3 L484.3,520.2 L485.3,518.1 L486.3,516 L487.3,513.8 L488.3,511.6 L489.3,509.4 L490.3,507.2 L491.3,504.9 L492.3,502.6 L493.3,500.3 L494.3,498 L495.3,495.7 L496.3,493.3 L497.3,491 L498.3,488.6 L499.3,486.3 L500.3,483.9 L501.3,481.5 L502.3,479.2 L503.3,476.7 L504.3,474.3 L505.3,471.9 L506.3,469.5 L507.3,467.1 L508.3,464.7 L509.3,462.3 L510.3,459.8 L511.3,457.4 L512.3,455 L513.3,452.7 L514.3,450.3 L515.3,448 L516.3,445.7 L517.3,443.5 L518.3,441.3 L519.3,439.1 L520.3,437 L521.3,434.9 L522.3,432.8 L523.3,430.8 L524.3,428.9 L525.3,427.1 L526.3,425.3 L527.3,423.6 L528.3,422 L529.3,420.5 L530.3,419.1 L531.3,417.7 L532.3,416.5 L533.3,415.3 L534.3,414.2 L535.3,413.2 L536.3,412.3 L537.3,411.6 L538.3,411 L539.3,410.5 L540.3,410.1 L541.3,409.7 L542.3,409.3 L543.3,409.1 L544.3,408.9 L545.3,408.9 L546.3,408.9 L547.3,409.1 L548.3,409.4 L549.3,409.8 L550.3,410.3 L551.3,410.9 L552.3,411.7 L553.3,412.5 L554.3,413.4 L555.3,414.3 L556.3,415.3 L557.3,416.4 L558.3,417.6 L559.3,419 L560.3,420.5 L561.3,422 L562.3,423.7 L563.3,425.4 L564.3,427.2 L565.3,428.9 L566.3,430.8 L567.3,432.6 L568.3,434.6 L569.3,436.5 L570.3,438.4 L571.3,440.4 L572.3,442.4 L573.3,444.3 L574.3,446.3 L575.3,448.2 L576.3,450.1 L577.3,451.9 L578.3,453.7 L579.3,455.5 L580.3,457.2 L581.3,459 L582.3,460.7 L583.3,462.4 L584.3,464 L585.3,465.6 L586.3,467.2 L587.3,468.8 L588.3,470.3 L589.3,471.8 L590.3,473.3 L591.3,474.7 L592.3,476.1 L593.3,477.4 L594.3,478.7 L595.3,480 L596.3,481.3 L597.3,482.5 L598.3,483.7 L599.3,484.9 L600.3,486.1 L601.3,487.2 L602.3,488.4 L603.3,489.4 L604.3,490.5 L605.3,491.5 L606.3,492.5 L607.3,493.5 L608.3,494.4 L609.3,495.4 L610.3,496.2 L611.3,497.1 L612.3,497.9 L613.3,498.8 L614.3,499.6 L615.3,500.4 L616.3,501.1 L617.3,501.9 L618.3,502.6 L619.3,503.3 L620.3,504 L621.3,504.6 L622.3,505.2 L623.3,505.8 L624.3,506.4 L625.3,507 L626.3,507.5 L627.3,508 L628.3,508.5 L629.3,509 L630.3,509.5 L631.3,509.9 L632.3,510.4 L633.3,510.8 L634.3,511.2 L635.3,511.6 L636.3,512 L637.3,512.3 L638.3,512.7 L639.3,513 L640.3,513.3 L641.3,513.5 L642.3,513.7 L643.3,513.9 L644.3,514.1 L645.3,514.2 L646.3,514.4 L647.3,514.5 L648.3,514.6 L649.3,514.8 L650.3,514.9 L651.3,515 L652.3,515.1 L653.3,515.2 L654.3,515.3 L655.3,515.3 L656.3,515.4 L657.3,515.5 L658.3,515.5 L659.3,515.6 L660.3,515.6 L661.3,515.7 L662.3,515.7 L663.3,515.7 L664.3,515.7 L665.3,515.7 L666.3,515.7 L667.3,515.7 L668.3,515.7 L669.3,515.7 L670.3,515.7 L671.3,515.7 L672.3,515.7 L673.3,515.6 L674,515.6 L674,522.4 L673.3,522.4 L672.3,522.4 L671.3,522.4 L670.3,522.4 L669.3,522.4 L668.3,522.4 L667.3,522.3 L666.3,522.3 L665.3,522.2 L664.3,522.1 L663.3,522.1 L662.3,522 L661.3,521.9 L660.3,521.8 L659.3,521.7 L658.3,521.6 L657.3,521.4 L656.3,521.3 L655.3,521.2 L654.3,521 L653.3,520.9 L652.3,520.7 L651.3,520.5 L650.3,520.4 L649.3,520.2 L648.3,520 L647.3,519.8 L646.3,519.6 L645.3,519.4 L644.3,519.2 L643.3,519 L642.3,518.8 L641.3,518.6 L640.3,518.3 L639.3,518.1 L638.3,517.8 L637.3,517.5 L636.3,517.2 L635.3,517 L634.3,516.6 L633.3,516.3 L632.3,516 L631.3,515.7 L630.3,515.3 L629.3,515 L628.3,514.6 L627.3,514.3 L626.3,513.9 L625.3,513.6 L624.3,513.2 L623.3,512.8 L622.3,512.4 L621.3,512 L620.3,511.6 L619.3,511.1 L618.3,510.6 L617.3,510.1 L616.3,509.6 L615.3,509.1 L614.3,508.5 L613.3,507.9 L612.3,507.2 L611.3,506.6 L610.3,505.9 L609.3,505.1 L608.3,504.3 L607.3,503.4 L606.3,502.5 L605.3,501.5 L604.3,500.4 L603.3,499.3 L602.3,498.2 L601.3,497.1 L600.3,495.9 L599.3,494.7 L598.3,493.4 L597.3,492.2 L596.3,490.9 L595.3,489.7 L594.3,488.4 L593.3,487.1 L592.3,485.9 L591.3,484.6 L590.3,483.2 L589.3,481.9 L588.3,480.6 L587.3,479.2 L586.3,477.8 L585.3,476.5 L584.3,475.1 L583.3,473.7 L582.3,472.4 L581.3,471 L580.3,469.7 L579.3,468.3 L578.3,467 L577.3,465.7 L576.3,464.4 L575.3,463.2 L574.3,462 L573.3,460.7 L572.3,459.5 L571.3,458.3 L570.3,457.1 L569.3,455.9 L568.3,454.7 L567.3,453.4 L566.3,452.1 L565.3,450.9 L564.3,449.5 L563.3,448.2 L562.3,446.7 L561.3,445.3 L560.3,443.9 L559.3,442.5 L558.3,441.2 L557.3,440.1 L556.3,439.1 L555.3,438.1 L554.3,437.1 L553.3,436.2 L552.3,435.4 L551.3,434.7 L550.3,434 L549.3,433.5 L548.3,433 L547.3,432.7 L546.3,432.5 L545.3,432.5 L544.3,432.5 L543.3,432.7 L542.3,432.9 L541.3,433.2 L540.3,433.6 L539.3,434 L538.3,434.6 L537.3,435.2 L536.3,435.9 L535.3,436.8 L534.3,437.9 L533.3,439.1 L532.3,440.4 L531.3,441.8 L530.3,443.3 L529.3,444.9 L528.3,446.6 L527.3,448.4 L526.3,450.4 L525.3,452.3 L524.3,454.3 L523.3,456.4 L522.3,458.4 L521.3,460.5 L520.3,462.6 L519.3,464.7 L518.3,466.8 L517.3,468.8 L516.3,470.7 L515.3,472.5 L514.3,474.4 L513.3,476.2 L512.3,478 L511.3,479.7 L510.3,481.5 L509.3,483.3 L508.3,485.1 L507.3,486.9 L506.3,488.8 L505.3,490.6 L504.3,492.6 L503.3,494.5 L502.3,496.4 L501.3,498.4 L500.3,500.4 L499.3,502.4 L498.3,504.4 L497.3,506.4 L496.3,508.5 L495.3,510.5 L494.3,512.5 L493.3,514.5 L492.3,516.5 L491.3,518.5 L490.3,520.5 L489.3,522.5 L488.3,524.5 L487.3,526.4 L486.3,528.4 L485.3,530.3 L484.3,532.2 L483.3,534.2 L482.3,536.1 L481.3,538 L480.3,539.9 L479.3,541.8 L478.3,543.7 L477.3,545.5 L476.3,547.4 L475.3,549.2 L474.3,550.9 L473.3,552.6 L472.3,554.3 L471.3,556 L470.3,557.6 L469.3,559.1 L468.3,560.7 L467.3,562.1 L466.3,563.5 L465.3,564.8 L464.3,566.1 L463.3,567.4 L462.3,568.5 L461.3,569.7 L460.3,570.8 L459.3,571.8 L458.3,572.8 L457.3,573.8 L456.3,574.7 L455.3,575.6 L454.3,576.4 L453.3,577.2 L452.3,577.9 L451.3,578.6 L450.3,579.3 L449.3,580 L448.3,580.6 L447.3,581.2 L446.3,581.8 L445.3,582.4 L444.3,582.9 L443.3,583.4 L442.3,583.9 L441.3,584.4 L440.3,584.8 L439.3,585.3 L438.3,585.7 L437.3,586.1 L436.3,586.5 L435.3,586.9 L434.3,587.2 L433.3,587.6 L432.3,588 L431.3,588.3 L430.3,588.7 L429.3,589.1 L428.3,589.4 L427.3,589.8 L426.3,590.2 L425.3,590.5 L424.3,590.9 L423.3,591.2 L422.3,591.5 L421.3,591.8 L420.3,592.2 L419.3,592.5 L418.3,592.8 L417.3,593.1 L416.3,593.4 L415.3,593.7 L414.3,594 L413.3,594.2 L412.3,594.5 L411.3,594.8 L410.3,595.1 L409.3,595.3 L408.3,595.6 L407.3,595.8 L406.3,596.1 L405.3,596.3 L404.3,596.5 L403.3,596.8 L402.3,597 L401.3,597.1 L400.3,597.3 L399.3,597.5 L398.3,597.6 L397.3,597.8 L396.3,597.9 L395.3,598 L394.3,598.1 L393.3,598.2 L392.3,598.3 L391.3,598.4 L390.3,598.5 L389.3,598.5 L388.3,598.6 L387.3,598.6 L386.3,598.6 L385.3,598.6 Z" fill="#6495ED"/>
<path d="M385.3,598.5 L386.3,598.4 L387.3,598.3 L388.3,598.1 L389.3,598 L390.3,597.8 L391.3,597.7 L392.3,597.5 L393.3,597.3 L394.3,597.2 L395.3,597 L396.3,596.9 L397.3,596.7 L398.3,596.5 L399.3,596.3 L400.3,596.1 L401.3,596 L402.3,595.8 L403.3,595.6 L404.3,595.4 L405.3,595.2 L406.3,594.9 L407.3,594.7 L408.3,594.5 L409.3,594.3 L410.3,594 L411.3,593.8 L412.3,593.5 L413.3,593.2 L414.3,593 L415.3,592.7 L416.3,592.4 L417.3,592.1 L418.3,591.8 L419.3,591.4 L420.3,591.1 L421.3,590.8 L422.3,590.4 L423.3,590 L424.3,589.6 L425.3,589.2 L426.3,588.8 L427.3,588.4 L428.3,588 L429.3,587.5 L430.3,587.1 L431.3,586.6 L432.3,586.1 L433.3,585.6 L434.3,585.1 L435.3,584.6 L436.3,584 L437.3,583.4 L438.3,582.9 L439.3,582.3 L440.3,581.6 L441.3,581 L442.3,580.4 L443.3,579.7 L444.3,579 L445.3,578.3 L446.3,577.6 L447.3,576.8 L448.3,576.1 L449.3,575.3 L450.3,574.5 L451.3,573.7 L452.3,572.8 L453.3,572 L454.3,571.1 L455.3,570.2 L456.3,569.3 L457.3,568.3 L458.3,567.3 L459.3,566.3 L460.3,565.3 L461.3,564.3 L462.3,563.2 L463.3,562.1 L464.3,560.9 L465.3,559.7 L466.3,558.5 L467.3,557.2 L468.3,555.9 L469.3,554.5 L470.3,553.1 L471.3,551.7 L472.3,550.2 L473.3,548.7 L474.3,547.2 L475.3,545.6 L476.3,544 L477.3,542.3 L478.3,540.6 L479.3,538.9 L480.3,537.1 L481.3,535.3 L482.3,533.4 L483.3,531.5 L484.3,529.6 L485.3,527.6 L486.3,525.5 L487.3,523.4 L488.3,521.3 L489.3,519 L490.3,516.7 L491.3,514.4 L492.3,512 L493.3,509.6 L494.3,507.2 L495.3,504.7 L496.3,502.3 L497.3,499.8 L498.3,497.4 L499.3,495 L500.3,492.6 L501.3,490.2 L502.3,487.9 L503.3,485.6 L504.3,483.3 L505.3,481 L506.3,478.7 L507.3,476.5 L508.3,474.3 L509.3,472 L510.3,469.8 L511.3,467.6 L512.3,465.4 L513.3,463.2 L514.3,461 L515.3,458.8 L516.3,456.6 L517.3,454.3 L518.3,452.1 L519.3,449.9 L520.3,447.8 L521.3,445.6 L522.3,443.3 L523.3,441.1 L524.3,438.9 L525.3,436.7 L526.3,434.7 L527.3,432.7 L528.3,431 L529.3,429.4 L530.3,427.8 L531.3,426.4 L532.3,425.2 L533.3,424.1 L534.3,423.1 L535.3,422.4 L536.3,421.7 L537.3,421.2 L538.3,420.7 L539.3,420.3 L540.3,420.1 L541.3,420 L542.3,420 L543.3,420.1 L544.3,420.3 L545.3,420.6 L546.3,421 L547.3,421.4 L548.3,421.9 L549.3,422.5 L550.3,423.3 L551.3,424.1 L552.3,425 L553.3,425.9 L554.3,427 L555.3,428 L556.3,429.1 L557.3,430.2 L558.3,431.4 L559.3,432.7 L560.3,434 L561.3,435.4 L562.3,436.8 L563.3,438.2 L564.3,439.6 L565.3,441.1 L566.3,442.6 L567.3,444.1 L568.3,445.6 L569.3,447.1 L570.3,448.7 L571.3,450.2 L572.3,451.8 L573.3,453.3 L574.3,454.9 L575.3,456.4 L576.3,458 L577.3,459.5 L578.3,461 L579.3,462.6 L580.3,464.1 L581.3,465.7 L582.3,467.2 L583.3,468.7 L584.3,470.2 L585.3,471.7 L586.3,473.2 L587.3,474.7 L588.3,476.2 L589.3,477.6 L590.3,479.1 L591.3,480.5 L592.3,481.8 L593.3,483.2 L594.3,484.5 L595.3,485.8 L596.3,487.1 L597.3,488.4 L598.3,489.7 L599.3,490.9 L600.3,492.2 L601.3,493.4 L602.3,494.5 L603.3,495.7 L604.3,496.8 L605.3,497.9 L606.3,498.9 L607.3,499.9 L608.3,500.9 L609.3,501.8 L610.3,502.7 L611.3,503.5 L612.3,504.4 L613.3,505.2 L614.3,505.9 L615.3,506.7 L616.3,507.4 L617.3,508 L618.3,508.7 L619.3,509.3 L620.3,509.8 L621.3,510.3 L622.3,510.8 L623.3,511.3 L624.3,511.7 L625.3,512.1 L626.3,512.5 L627.3,512.8 L628.3,513.2 L629.3,513.5 L630.3,513.8 L631.3,514.1 L632.3,514.4 L633.3,514.6 L634.3,514.9 L635.3,515.1 L636.3,515.3 L637.3,515.5 L638.3,515.7 L639.3,515.9 L640.3,516.1 L641.3,516.2 L642.3,516.3 L643.3,516.5 L644.3,516.6 L645.3,516.7 L646.3,516.8 L647.3,516.9 L648.3,517 L649.3,517.1 L650.3,517.2 L651.3,517.3 L652.3,517.3 L653.3,517.4 L654.3,517.5 L655.3,517.6 L656.3,517.7 L657.3,517.7 L658.3,517.8 L659.3,517.9 L660.3,517.9 L661.3,518 L662.3,518.1 L663.3,518.1 L664.3,518.2 L665.3,518.3 L666.3,518.4 L667.3,518.4 L668.3,518.5 L669.3,518.6 L670.3,518.7 L671.3,518.8 L672.3,518.8 L673.3,518.9 L674,519" fill="none" stroke="#000088" stroke-width="1.5" stroke-linejoin="round"/>
</g>
<circle cx="622.3" cy="513.2" r="2.3" fill="#fff" stroke="#FF0000" stroke-width="1.3"/>
<path d="M622.3,467.4 V563.1" stroke="#FF0000" stroke-opacity="0.75" stroke-width="1.3"/>
<text x="403.5" y="407.3" font-size="18" font-weight="bold" fill="#000" textLength="70.8" lengthAdjust="spacingAndGlyphs">Viet Nam</text>
<defs><clipPath id="ccl"><rect x="32.4" y="703.9" width="287.6" height="232.5"/></clipPath></defs>
<rect x="32.4" y="703.9" width="287.6" height="232.5" fill="#E5E5E5"/>
<path d="M32.4,926.6 H320 M32.4,890.1 H320 M32.4,853.5 H320 M32.4,817 H320 M32.4,780.5 H320 M32.4,744 H320 M32.4,707.4 H320 M32.4,703.9 V936.4 M89.9,703.9 V936.4 M147.4,703.9 V936.4 M205,703.9 V936.4 M262.5,703.9 V936.4 M320,703.9 V936.4" stroke="#F7F7F7" stroke-width="1.1" fill="none"/>
<path d="M28.4,926.6 H31.4 M28.4,890.1 H31.4 M28.4,853.5 H31.4 M28.4,817 H31.4 M28.4,780.5 H31.4 M28.4,744 H31.4 M28.4,707.4 H31.4 M32.4,937.4 V940.4 M89.9,937.4 V940.4 M147.4,937.4 V940.4 M205,937.4 V940.4 M262.5,937.4 V940.4 M320,937.4 V940.4" stroke="#555" stroke-width="0.9" fill="none"/>
<text x="24.8" y="931" font-size="10.4" fill="#303030" stroke="#303030" stroke-width="0.2" text-anchor="end">0</text>
<text x="24.8" y="894.5" font-size="10.4" fill="#303030" stroke="#303030" stroke-width="0.2" text-anchor="end">2</text>
<text x="24.8" y="857.9" font-size="10.4" fill="#303030" stroke="#303030" stroke-width="0.2" text-anchor="end">4</text>
<text x="24.8" y="821.4" font-size="10.4" fill="#303030" stroke="#303030" stroke-width="0.2" text-anchor="end">6</text>
<text x="24.8" y="784.9" font-size="10.4" fill="#303030" stroke="#303030" stroke-width="0.2" text-anchor="end">8</text>
<text x="24.8" y="748.4" font-size="10.4" fill="#303030" stroke="#303030" stroke-width="0.2" text-anchor="end">10</text>
<text x="24.8" y="711.8" font-size="10.4" fill="#303030" stroke="#303030" stroke-width="0.2" text-anchor="end">12</text>
<text x="32.4" y="952.4" font-size="10.4" fill="#303030" stroke="#303030" stroke-width="0.2" text-anchor="middle">1970</text>
<text x="89.9" y="952.4" font-size="10.4" fill="#303030" stroke="#303030" stroke-width="0.2" text-anchor="middle">1980</text>
<text x="147.4" y="952.4" font-size="10.4" fill="#303030" stroke="#303030" stroke-width="0.2" text-anchor="middle">1990</text>
<text x="205" y="952.4" font-size="10.4" fill="#303030" stroke="#303030" stroke-width="0.2" text-anchor="middle">2000</text>
<text x="262.5" y="952.4" font-size="10.4" fill="#303030" stroke="#303030" stroke-width="0.2" text-anchor="middle">2010</text>
<text x="320" y="952.4" font-size="10.4" fill="#303030" stroke="#303030" stroke-width="0.2" text-anchor="middle">2020</text>
<text x="176.2" y="967.2" font-size="12.6" fill="#303030" stroke="#303030" stroke-width="0.2" text-anchor="middle" textLength="24.2" lengthAdjust="spacingAndGlyphs">time</text>
<text transform="translate(9.4,821.3) rotate(-90)" font-size="11.6" fill="#303030" stroke="#303030" stroke-width="0.2" text-anchor="middle" textLength="92.4" lengthAdjust="spacingAndGlyphs">perc_strain_mdr</text>
<g clip-path="url(#ccl)">
<path d="M32.4,926 L33.4,925.9 L34.4,925.9 L35.4,925.8 L36.4,925.8 L37.4,925.7 L38.4,925.7 L39.4,925.6 L40.4,925.6 L41.4,925.6 L42.4,925.6 L43.4,925.6 L44.4,925.6 L45.4,925.5 L46.4,925.5 L47.4,925.5 L48.4,925.6 L49.4,925.6 L50.4,925.6 L51.4,925.6 L52.4,925.6 L53.4,925.6 L54.4,925.6 L55.4,925.6 L56.4,925.6 L57.4,925.7 L58.4,925.7 L59.4,925.7 L60.4,925.7 L61.4,925.7 L62.4,925.7 L63.4,925.7 L64.4,925.7 L65.4,925.6 L66.4,925.6 L67.4,925.6 L68.4,925.5 L69.4,925.5 L70.4,925.4 L71.4,925.3 L72.4,925.3 L73.4,925.2 L74.4,925.1 L75.4,925 L76.4,924.8 L77.4,924.7 L78.4,924.6 L79.4,924.4 L80.4,924.2 L81.4,924 L82.4,923.8 L83.4,923.6 L84.4,923.4 L85.4,923.2 L86.4,922.9 L87.4,922.6 L88.4,922.4 L89.4,922.1 L90.4,921.7 L91.4,921.4 L92.4,921 L93.4,920.5 L94.4,920 L95.4,919.4 L96.4,918.8 L97.4,918.2 L98.4,917.5 L99.4,916.8 L100.4,916.1 L101.4,915.3 L102.4,914.5 L103.4,913.6 L104.4,912.8 L105.4,911.9 L106.4,911 L107.4,910.1 L108.4,909.1 L109.4,908 L110.4,906.9 L111.4,905.8 L112.4,904.6 L113.4,903.3 L114.4,902 L115.4,900.7 L116.4,899.3 L117.4,897.8 L118.4,896.4 L119.4,894.8 L120.4,893.2 L121.4,891.5 L122.4,889.7 L123.4,887.8 L124.4,885.9 L125.4,883.9 L126.4,881.8 L127.4,879.6 L128.4,877.4 L129.4,875.2 L130.4,872.8 L131.4,870.4 L132.4,867.9 L133.4,865.4 L134.4,862.7 L135.4,860 L136.4,857.3 L137.4,854.4 L138.4,851.4 L139.4,848.4 L140.4,845.2 L141.4,841.9 L142.4,838.5 L143.4,835.1 L144.4,831.6 L145.4,828.1 L146.4,824.6 L147.4,821 L148.4,817.5 L149.4,813.9 L150.4,810.2 L151.4,806.6 L152.4,802.9 L153.4,799.2 L154.4,795.5 L155.4,791.8 L156.4,788.2 L157.4,784.6 L158.4,781.1 L159.4,777.6 L160.4,774.1 L161.4,770.7 L162.4,767.3 L163.4,764 L164.4,760.7 L165.4,757.5 L166.4,754.4 L167.4,751.3 L168.4,748.4 L169.4,745.5 L170.4,742.8 L171.4,740.2 L172.4,737.6 L173.4,735.2 L174.4,732.9 L175.4,730.7 L176.4,728.6 L177.4,726.7 L178.4,724.9 L179.4,723.3 L180.4,721.8 L181.4,720.3 L182.4,719 L183.4,717.8 L184.4,716.7 L185.4,715.9 L186.4,715.2 L187.4,714.9 L188.4,714.7 L189.4,714.6 L190.4,714.7 L191.4,714.8 L192.4,715.1 L193.4,715.4 L194.4,715.9 L195.4,716.4 L196.4,717 L197.4,717.7 L198.4,718.7 L199.4,719.9 L200.4,721.2 L201.4,722.6 L202.4,724.2 L203.4,725.9 L204.4,727.6 L205.4,729.4 L206.4,731.2 L207.4,733.1 L208.4,735.2 L209.4,737.3 L210.4,739.5 L211.4,741.8 L212.4,744.1 L213.4,746.5 L214.4,748.9 L215.4,751.4 L216.4,753.9 L217.4,756.4 L218.4,759 L219.4,761.5 L220.4,764.1 L221.4,766.7 L222.4,769.3 L223.4,771.9 L224.4,774.5 L225.4,777 L226.4,779.5 L227.4,782 L228.4,784.5 L229.4,786.9 L230.4,789.2 L231.4,791.6 L232.4,793.8 L233.4,796 L234.4,798.2 L235.4,800.2 L236.4,802.1 L237.4,804 L238.4,805.8 L239.4,807.5 L240.4,809.2 L241.4,810.7 L242.4,812.2 L243.4,813.7 L244.4,815.1 L245.4,816.4 L246.4,817.6 L247.4,818.8 L248.4,819.8 L249.4,820.9 L250.4,821.9 L251.4,822.9 L252.4,823.8 L253.4,824.7 L254.4,825.6 L255.4,826.4 L256.4,827.1 L257.4,827.8 L258.4,828.5 L259.4,829.1 L260.4,829.6 L261.4,830.1 L262.4,830.5 L263.4,830.8 L264.4,831.1 L265.4,831.4 L266.4,831.7 L267.4,832 L268.4,832.3 L269.4,832.5 L270.4,832.8 L271.4,833 L272.4,833.2 L273.4,833.4 L274.4,833.5 L275.4,833.7 L276.4,833.9 L277.4,834 L278.4,834.1 L279.4,834.2 L280.4,834.3 L281.4,834.4 L282.4,834.5 L283.4,834.6 L284.4,834.6 L285.4,834.7 L286.4,834.7 L287.4,834.7 L288.4,834.7 L289.4,834.8 L290.4,834.8 L291.4,834.8 L292.4,834.7 L293.4,834.7 L294.4,834.7 L295.4,834.7 L296.4,834.6 L297.4,834.6 L298.4,834.5 L299.4,834.5 L300.4,834.4 L301.4,834.4 L302.4,834.3 L303.4,834.2 L304.4,834.2 L305.4,834.1 L306.4,834 L307.4,834 L308.4,833.9 L309.4,833.8 L310.4,833.7 L311.4,833.7 L312.4,833.6 L313.4,833.5 L314.4,833.5 L315.4,833.4 L316.4,833.3 L317.4,833.3 L318.4,833.2 L319.4,833.1 L320,833.1 L320,869.6 L319.4,869.6 L318.4,869.7 L317.4,869.8 L316.4,869.8 L315.4,869.9 L314.4,870 L313.4,870 L312.4,870.1 L311.4,870.1 L310.4,870.2 L309.4,870.2 L308.4,870.3 L307.4,870.3 L306.4,870.3 L305.4,870.4 L304.4,870.4 L303.4,870.4 L302.4,870.4 L301.4,870.4 L300.4,870.4 L299.4,870.4 L298.4,870.4 L297.4,870.4 L296.4,870.4 L295.4,870.4 L294.4,870.4 L293.4,870.3 L292.4,870.3 L291.4,870.3 L290.4,870.2 L289.4,870.2 L288.4,870.1 L287.4,870 L286.4,870 L285.4,869.9 L284.4,869.8 L283.4,869.7 L282.4,869.6 L281.4,869.6 L280.4,869.5 L279.4,869.3 L278.4,869.2 L277.4,869.1 L276.4,869 L275.4,868.9 L274.4,868.8 L273.4,868.6 L272.4,868.5 L271.4,868.4 L270.4,868.2 L269.4,868.1 L268.4,867.9 L267.4,867.8 L266.4,867.6 L265.4,867.5 L264.4,867.3 L263.4,867.1 L262.4,867 L261.4,866.8 L260.4,866.6 L259.4,866.4 L258.4,866.2 L257.4,866 L256.4,865.8 L255.4,865.5 L254.4,865.3 L253.4,865.1 L252.4,864.8 L251.4,864.6 L250.4,864.3 L249.4,864 L248.4,863.8 L247.4,863.5 L246.4,863.2 L245.4,862.9 L244.4,862.7 L243.4,862.4 L242.4,862.1 L241.4,861.8 L240.4,861.4 L239.4,861.1 L238.4,860.8 L237.4,860.5 L236.4,860.1 L235.4,859.8 L234.4,859.5 L233.4,859.1 L232.4,858.7 L231.4,858.4 L230.4,858 L229.4,857.6 L228.4,857.2 L227.4,856.9 L226.4,856.5 L225.4,856.1 L224.4,855.6 L223.4,855.2 L222.4,854.8 L221.4,854.4 L220.4,853.9 L219.4,853.5 L218.4,853 L217.4,852.6 L216.4,852.1 L215.4,851.6 L214.4,851.1 L213.4,850.7 L212.4,850.2 L211.4,849.7 L210.4,849.1 L209.4,848.6 L208.4,848.1 L207.4,847.6 L206.4,847.1 L205.4,846.5 L204.4,846 L203.4,845.4 L202.4,844.9 L201.4,844.3 L200.4,843.8 L199.4,843.2 L198.4,842.7 L197.4,842.2 L196.4,841.8 L195.4,841.4 L194.4,841 L193.4,840.7 L192.4,840.4 L191.4,840.1 L190.4,839.9 L189.4,839.9 L188.4,839.8 L187.4,839.8 L186.4,839.8 L185.4,839.9 L184.4,840.2 L183.4,840.5 L182.4,841 L181.4,841.5 L180.4,842.1 L179.4,842.8 L178.4,843.6 L177.4,844.5 L176.4,845.4 L175.4,846.4 L174.4,847.5 L173.4,848.9 L172.4,850.3 L171.4,851.9 L170.4,853.4 L169.4,855.1 L168.4,856.7 L167.4,858.5 L166.4,860.3 L165.4,862.2 L164.4,864 L163.4,866 L162.4,867.9 L161.4,869.8 L160.4,871.7 L159.4,873.5 L158.4,875.4 L157.4,877.2 L156.4,879.1 L155.4,880.9 L154.4,882.8 L153.4,884.6 L152.4,886.3 L151.4,888.1 L150.4,889.8 L149.4,891.5 L148.4,893.1 L147.4,894.7 L146.4,896.3 L145.4,897.8 L144.4,899.3 L143.4,900.8 L142.4,902.2 L141.4,903.6 L140.4,905 L139.4,906.2 L138.4,907.5 L137.4,908.6 L136.4,909.6 L135.4,910.6 L134.4,911.5 L133.4,912.4 L132.4,913.3 L131.4,914.1 L130.4,914.9 L129.4,915.7 L128.4,916.4 L127.4,917.1 L126.4,917.7 L125.4,918.3 L124.4,918.9 L123.4,919.4 L122.4,919.9 L121.4,920.4 L120.4,920.8 L119.4,921.2 L118.4,921.5 L117.4,921.8 L116.4,922.1 L115.4,922.4 L114.4,922.7 L113.4,922.9 L112.4,923.1 L111.4,923.3 L110.4,923.5 L109.4,923.7 L108.4,923.8 L107.4,924 L106.4,924.1 L105.4,924.3 L104.4,924.4 L103.4,924.6 L102.4,924.7 L101.4,924.8 L100.4,924.9 L99.4,925 L98.4,925.1 L97.4,925.2 L96.4,925.3 L95.4,925.4 L94.4,925.5 L93.4,925.6 L92.4,925.7 L91.4,925.7 L90.4,925.8 L89.4,925.8 L88.4,925.9 L87.4,925.9 L86.4,926 L85.4,926 L84.4,926 L83.4,926.1 L82.4,926.1 L81.4,926.1 L80.4,926.2 L79.4,926.2 L78.4,926.2 L77.4,926.2 L76.4,926.2 L75.4,926.3 L74.4,926.3 L73.4,926.3 L72.4,926.3 L71.4,926.3 L70.4,926.3 L69.4,926.3 L68.4,926.3 L67.4,926.4 L66.4,926.4 L65.4,926.4 L64.4,926.4 L63.4,926.4 L62.4,926.4 L61.4,926.4 L60.4,926.4 L59.4,926.4 L58.4,926.4 L57.4,926.4 L56.4,926.4 L55.4,926.4 L54.4,926.4 L53.4,926.4 L52.4,926.4 L51.4,926.4 L50.4,926.4 L49.4,926.4 L48.4,926.4 L47.4,926.4 L46.4,926.4 L45.4,926.4 L44.4,926.4 L43.4,926.4 L42.4,926.4 L41.4,926.4 L40.4,926.4 L39.4,926.4 L38.4,926.4 L37.4,926.4 L36.4,926.4 L35.4,926.4 L34.4,926.5 L33.4,926.5 L32.4,926.5 Z" fill="#B0C4DE"/>
<path d="M32.4,926.2 L33.4,926.2 L34.4,926.1 L35.4,926.1 L36.4,926.1 L37.4,926 L38.4,926 L39.4,926 L40.4,926 L41.4,925.9 L42.4,925.9 L43.4,925.9 L44.4,925.9 L45.4,925.9 L46.4,925.9 L47.4,925.9 L48.4,925.9 L49.4,925.9 L50.4,925.9 L51.4,925.9 L52.4,925.9 L53.4,925.9 L54.4,925.9 L55.4,925.9 L56.4,925.9 L57.4,925.9 L58.4,925.9 L59.4,925.9 L60.4,925.9 L61.4,925.9 L62.4,925.9 L63.4,925.9 L64.4,925.9 L65.4,925.9 L66.4,925.8 L67.4,925.8 L68.4,925.8 L69.4,925.7 L70.4,925.7 L71.4,925.6 L72.4,925.6 L73.4,925.5 L74.4,925.4 L75.4,925.3 L76.4,925.2 L77.4,925.1 L78.4,925 L79.4,924.9 L80.4,924.8 L81.4,924.6 L82.4,924.5 L83.4,924.3 L84.4,924.2 L85.4,924 L86.4,923.8 L87.4,923.6 L88.4,923.4 L89.4,923.2 L90.4,923 L91.4,922.8 L92.4,922.5 L93.4,922.2 L94.4,921.8 L95.4,921.4 L96.4,921 L97.4,920.6 L98.4,920.2 L99.4,919.7 L100.4,919.2 L101.4,918.7 L102.4,918.2 L103.4,917.6 L104.4,917.1 L105.4,916.5 L106.4,915.9 L107.4,915.3 L108.4,914.6 L109.4,913.9 L110.4,913.2 L111.4,912.4 L112.4,911.6 L113.4,910.7 L114.4,909.8 L115.4,908.9 L116.4,907.9 L117.4,906.9 L118.4,905.8 L119.4,904.6 L120.4,903.4 L121.4,902.1 L122.4,900.7 L123.4,899.2 L124.4,897.7 L125.4,896.1 L126.4,894.4 L127.4,892.7 L128.4,890.8 L129.4,888.9 L130.4,886.9 L131.4,884.7 L132.4,882.5 L133.4,880.2 L134.4,877.9 L135.4,875.5 L136.4,873 L137.4,870.4 L138.4,867.8 L139.4,865.2 L140.4,862.6 L141.4,859.9 L142.4,857.2 L143.4,854.4 L144.4,851.6 L145.4,848.7 L146.4,845.8 L147.4,842.9 L148.4,840 L149.4,837 L150.4,834.1 L151.4,831.1 L152.4,828.2 L153.4,825.2 L154.4,822.3 L155.4,819.4 L156.4,816.5 L157.4,813.6 L158.4,810.7 L159.4,807.8 L160.4,805 L161.4,802.2 L162.4,799.5 L163.4,796.9 L164.4,794.2 L165.4,791.7 L166.4,789.2 L167.4,786.8 L168.4,784.5 L169.4,782.2 L170.4,780.1 L171.4,778 L172.4,776 L173.4,774.2 L174.4,772.5 L175.4,771 L176.4,769.6 L177.4,768.2 L178.4,766.8 L179.4,765.6 L180.4,764.4 L181.4,763.3 L182.4,762.2 L183.4,761.3 L184.4,760.5 L185.4,759.8 L186.4,759.2 L187.4,758.8 L188.4,758.5 L189.4,758.3 L190.4,758.3 L191.4,758.3 L192.4,758.4 L193.4,758.5 L194.4,758.7 L195.4,759 L196.4,759.4 L197.4,759.8 L198.4,760.5 L199.4,761.2 L200.4,762.1 L201.4,763.1 L202.4,764.2 L203.4,765.3 L204.4,766.5 L205.4,767.7 L206.4,769 L207.4,770.4 L208.4,771.9 L209.4,773.5 L210.4,775.1 L211.4,776.8 L212.4,778.5 L213.4,780.3 L214.4,782.1 L215.4,784 L216.4,785.8 L217.4,787.7 L218.4,789.6 L219.4,791.4 L220.4,793.3 L221.4,795.1 L222.4,797 L223.4,798.9 L224.4,800.8 L225.4,802.7 L226.4,804.6 L227.4,806.5 L228.4,808.4 L229.4,810.2 L230.4,812 L231.4,813.8 L232.4,815.5 L233.4,817.2 L234.4,818.8 L235.4,820.3 L236.4,821.8 L237.4,823.2 L238.4,824.7 L239.4,826 L240.4,827.4 L241.4,828.6 L242.4,829.9 L243.4,831 L244.4,832.1 L245.4,833.2 L246.4,834.1 L247.4,835 L248.4,835.9 L249.4,836.6 L250.4,837.4 L251.4,838.1 L252.4,838.8 L253.4,839.5 L254.4,840.1 L255.4,840.7 L256.4,841.2 L257.4,841.7 L258.4,842.2 L259.4,842.6 L260.4,843 L261.4,843.3 L262.4,843.6 L263.4,843.8 L264.4,844.1 L265.4,844.3 L266.4,844.5 L267.4,844.7 L268.4,844.9 L269.4,845.1 L270.4,845.3 L271.4,845.5 L272.4,845.6 L273.4,845.8 L274.4,845.9 L275.4,846 L276.4,846.2 L277.4,846.3 L278.4,846.4 L279.4,846.5 L280.4,846.5 L281.4,846.6 L282.4,846.7 L283.4,846.8 L284.4,846.8 L285.4,846.9 L286.4,846.9 L287.4,846.9 L288.4,847 L289.4,847 L290.4,847 L291.4,847 L292.4,847 L293.4,847 L294.4,847 L295.4,847 L296.4,847 L297.4,847 L298.4,846.9 L299.4,846.9 L300.4,846.9 L301.4,846.8 L302.4,846.8 L303.4,846.8 L304.4,846.7 L305.4,846.7 L306.4,846.7 L307.4,846.6 L308.4,846.6 L309.4,846.5 L310.4,846.5 L311.4,846.4 L312.4,846.4 L313.4,846.3 L314.4,846.3 L315.4,846.2 L316.4,846.2 L317.4,846.1 L318.4,846.1 L319.4,846 L320,846 L320,858.2 L319.4,858.2 L318.4,858.2 L317.4,858.1 L316.4,858.1 L315.4,858.1 L314.4,858.1 L313.4,858.1 L312.4,858.1 L311.4,858.1 L310.4,858.1 L309.4,858.1 L308.4,858.1 L307.4,858.1 L306.4,858.1 L305.4,858.1 L304.4,858.1 L303.4,858.1 L302.4,858.1 L301.4,858.1 L300.4,858.1 L299.4,858.2 L298.4,858.2 L297.4,858.2 L296.4,858.2 L295.4,858.2 L294.4,858.2 L293.4,858.2 L292.4,858.2 L291.4,858.2 L290.4,858.2 L289.4,858.1 L288.4,858.1 L287.4,858.1 L286.4,858.1 L285.4,858 L284.4,858 L283.4,857.9 L282.4,857.9 L281.4,857.8 L280.4,857.7 L279.4,857.6 L278.4,857.6 L277.4,857.5 L276.4,857.4 L275.4,857.3 L274.4,857.1 L273.4,857 L272.4,856.9 L271.4,856.7 L270.4,856.6 L269.4,856.4 L268.4,856.3 L267.4,856.1 L266.4,855.9 L265.4,855.7 L264.4,855.5 L263.4,855.3 L262.4,855.1 L261.4,854.8 L260.4,854.5 L259.4,854.2 L258.4,853.9 L257.4,853.5 L256.4,853.1 L255.4,852.7 L254.4,852.2 L253.4,851.7 L252.4,851.2 L251.4,850.7 L250.4,850.2 L249.4,849.6 L248.4,849.1 L247.4,848.5 L246.4,847.9 L245.4,847.3 L244.4,846.6 L243.4,845.9 L242.4,845.2 L241.4,844.4 L240.4,843.7 L239.4,842.9 L238.4,842.1 L237.4,841.2 L236.4,840.3 L235.4,839.4 L234.4,838.5 L233.4,837.6 L232.4,836.6 L231.4,835.6 L230.4,834.5 L229.4,833.5 L228.4,832.4 L227.4,831.2 L226.4,830.1 L225.4,829 L224.4,827.9 L223.4,826.7 L222.4,825.6 L221.4,824.5 L220.4,823.4 L219.4,822.2 L218.4,821.1 L217.4,820 L216.4,818.9 L215.4,817.7 L214.4,816.6 L213.4,815.5 L212.4,814.4 L211.4,813.4 L210.4,812.4 L209.4,811.4 L208.4,810.5 L207.4,809.6 L206.4,808.8 L205.4,808 L204.4,807.4 L203.4,806.7 L202.4,806.1 L201.4,805.5 L200.4,805 L199.4,804.5 L198.4,804.1 L197.4,803.8 L196.4,803.5 L195.4,803.3 L194.4,803.1 L193.4,802.9 L192.4,802.8 L191.4,802.7 L190.4,802.7 L189.4,802.7 L188.4,802.7 L187.4,802.9 L186.4,803.1 L185.4,803.5 L184.4,803.9 L183.4,804.5 L182.4,805.2 L181.4,805.9 L180.4,806.7 L179.4,807.6 L178.4,808.6 L177.4,809.7 L176.4,810.8 L175.4,812 L174.4,813.5 L173.4,815.1 L172.4,816.8 L171.4,818.6 L170.4,820.5 L169.4,822.4 L168.4,824.4 L167.4,826.5 L166.4,828.7 L165.4,830.9 L164.4,833.2 L163.4,835.5 L162.4,837.9 L161.4,840.2 L160.4,842.7 L159.4,845.1 L158.4,847.6 L157.4,850.1 L156.4,852.5 L155.4,855 L154.4,857.3 L153.4,859.6 L152.4,861.9 L151.4,864.2 L150.4,866.5 L149.4,868.7 L148.4,870.9 L147.4,873.1 L146.4,875.3 L145.4,877.4 L144.4,879.4 L143.4,881.5 L142.4,883.4 L141.4,885.4 L140.4,887.2 L139.4,889 L138.4,890.8 L137.4,892.5 L136.4,894.2 L135.4,895.8 L134.4,897.4 L133.4,898.9 L132.4,900.4 L131.4,901.8 L130.4,903.2 L129.4,904.5 L128.4,905.8 L127.4,907.1 L126.4,908.2 L125.4,909.3 L124.4,910.4 L123.4,911.4 L122.4,912.3 L121.4,913.2 L120.4,914 L119.4,914.8 L118.4,915.5 L117.4,916.2 L116.4,916.8 L115.4,917.4 L114.4,918 L113.4,918.5 L112.4,919 L111.4,919.5 L110.4,920 L109.4,920.4 L108.4,920.8 L107.4,921.2 L106.4,921.5 L105.4,921.9 L104.4,922.2 L103.4,922.5 L102.4,922.8 L101.4,923.1 L100.4,923.4 L99.4,923.7 L98.4,923.9 L97.4,924.2 L96.4,924.4 L95.4,924.6 L94.4,924.8 L93.4,925 L92.4,925.1 L91.4,925.3 L90.4,925.4 L89.4,925.5 L88.4,925.6 L87.4,925.6 L86.4,925.7 L85.4,925.8 L84.4,925.8 L83.4,925.9 L82.4,926 L81.4,926 L80.4,926 L79.4,926.1 L78.4,926.1 L77.4,926.1 L76.4,926.2 L75.4,926.2 L74.4,926.2 L73.4,926.2 L72.4,926.2 L71.4,926.2 L70.4,926.3 L69.4,926.3 L68.4,926.3 L67.4,926.3 L66.4,926.3 L65.4,926.3 L64.4,926.2 L63.4,926.2 L62.4,926.2 L61.4,926.2 L60.4,926.2 L59.4,926.2 L58.4,926.2 L57.4,926.2 L56.4,926.2 L55.4,926.2 L54.4,926.2 L53.4,926.1 L52.4,926.1 L51.4,926.1 L50.4,926.1 L49.4,926.1 L48.4,926.1 L47.4,926.1 L46.4,926.1 L45.4,926.1 L44.4,926.1 L43.4,926.1 L42.4,926.1 L41.4,926.2 L40.4,926.2 L39.4,926.2 L38.4,926.2 L37.4,926.2 L36.4,926.3 L35.4,926.3 L34.4,926.3 L33.4,926.4 L32.4,926.4 Z" fill="#6495ED"/>
<path d="M32.4,926.3 L33.4,926.3 L34.4,926.2 L35.4,926.1 L36.4,926.1 L37.4,926 L38.4,926 L39.4,926 L40.4,925.9 L41.4,925.9 L42.4,925.9 L43.4,925.9 L44.4,925.9 L45.4,925.8 L46.4,925.8 L47.4,925.8 L48.4,925.8 L49.4,925.8 L50.4,925.8 L51.4,925.9 L52.4,925.9 L53.4,925.9 L54.4,925.9 L55.4,925.9 L56.4,925.9 L57.4,925.9 L58.4,926 L59.4,926 L60.4,926 L61.4,926 L62.4,926 L63.4,926 L64.4,926.1 L65.4,926.1 L66.4,926.1 L67.4,926.1 L68.4,926.1 L69.4,926.1 L70.4,926.1 L71.4,926.1 L72.4,926.1 L73.4,926.1 L74.4,926.1 L75.4,926.1 L76.4,926.1 L77.4,926 L78.4,926 L79.4,926 L80.4,925.9 L81.4,925.9 L82.4,925.8 L83.4,925.7 L84.4,925.7 L85.4,925.6 L86.4,925.5 L87.4,925.4 L88.4,925.3 L89.4,925.2 L90.4,925 L91.4,924.9 L92.4,924.7 L93.4,924.5 L94.4,924.2 L95.4,923.9 L96.4,923.6 L97.4,923.3 L98.4,922.9 L99.4,922.5 L100.4,922.1 L101.4,921.7 L102.4,921.3 L103.4,920.8 L104.4,920.3 L105.4,919.8 L106.4,919.3 L107.4,918.8 L108.4,918.3 L109.4,917.7 L110.4,917.1 L111.4,916.4 L112.4,915.7 L113.4,915 L114.4,914.2 L115.4,913.5 L116.4,912.7 L117.4,911.9 L118.4,911 L119.4,910.2 L120.4,909.3 L121.4,908.3 L122.4,907.2 L123.4,906.1 L124.4,905 L125.4,903.7 L126.4,902.5 L127.4,901.1 L128.4,899.7 L129.4,898.3 L130.4,896.7 L131.4,895.1 L132.4,893.4 L133.4,891.5 L134.4,889.6 L135.4,887.5 L136.4,885.4 L137.4,883.1 L138.4,880.8 L139.4,878.4 L140.4,876 L141.4,873.5 L142.4,870.9 L143.4,868.4 L144.4,865.8 L145.4,863.2 L146.4,860.6 L147.4,858 L148.4,855.5 L149.4,853 L150.4,850.4 L151.4,847.9 L152.4,845.4 L153.4,842.8 L154.4,840.3 L155.4,837.7 L156.4,835.2 L157.4,832.6 L158.4,830 L159.4,827.3 L160.4,824.6 L161.4,821.9 L162.4,819.1 L163.4,816.4 L164.4,813.7 L165.4,811.1 L166.4,808.4 L167.4,805.8 L168.4,803.3 L169.4,800.8 L170.4,798.5 L171.4,796.3 L172.4,794.3 L173.4,792.4 L174.4,790.6 L175.4,789 L176.4,787.5 L177.4,786.2 L178.4,784.9 L179.4,783.8 L180.4,782.9 L181.4,782.1 L182.4,781.4 L183.4,780.7 L184.4,780.3 L185.4,780 L186.4,779.8 L187.4,779.7 L188.4,779.6 L189.4,779.7 L190.4,779.7 L191.4,779.9 L192.4,780.3 L193.4,780.7 L194.4,781.2 L195.4,781.8 L196.4,782.4 L197.4,783.1 L198.4,783.9 L199.4,784.7 L200.4,785.7 L201.4,786.6 L202.4,787.7 L203.4,788.7 L204.4,789.8 L205.4,791 L206.4,792.1 L207.4,793.3 L208.4,794.6 L209.4,795.9 L210.4,797.2 L211.4,798.5 L212.4,799.9 L213.4,801.3 L214.4,802.7 L215.4,804.1 L216.4,805.5 L217.4,806.9 L218.4,808.2 L219.4,809.6 L220.4,810.9 L221.4,812.3 L222.4,813.6 L223.4,814.9 L224.4,816.2 L225.4,817.5 L226.4,818.8 L227.4,820.1 L228.4,821.3 L229.4,822.6 L230.4,823.8 L231.4,825 L232.4,826.2 L233.4,827.4 L234.4,828.5 L235.4,829.6 L236.4,830.7 L237.4,831.8 L238.4,832.8 L239.4,833.9 L240.4,834.8 L241.4,835.8 L242.4,836.8 L243.4,837.7 L244.4,838.6 L245.4,839.4 L246.4,840.3 L247.4,841 L248.4,841.8 L249.4,842.5 L250.4,843.2 L251.4,843.9 L252.4,844.6 L253.4,845.3 L254.4,845.9 L255.4,846.5 L256.4,847 L257.4,847.6 L258.4,848.1 L259.4,848.5 L260.4,848.9 L261.4,849.3 L262.4,849.6 L263.4,849.9 L264.4,850.1 L265.4,850.4 L266.4,850.6 L267.4,850.8 L268.4,851 L269.4,851.2 L270.4,851.4 L271.4,851.6 L272.4,851.8 L273.4,851.9 L274.4,852.1 L275.4,852.2 L276.4,852.3 L277.4,852.4 L278.4,852.5 L279.4,852.6 L280.4,852.7 L281.4,852.8 L282.4,852.9 L283.4,852.9 L284.4,853 L285.4,853 L286.4,853 L287.4,853.1 L288.4,853.1 L289.4,853.1 L290.4,853.1 L291.4,853.1 L292.4,853.1 L293.4,853.1 L294.4,853.1 L295.4,853 L296.4,853 L297.4,853 L298.4,852.9 L299.4,852.9 L300.4,852.9 L301.4,852.8 L302.4,852.8 L303.4,852.7 L304.4,852.7 L305.4,852.6 L306.4,852.5 L307.4,852.5 L308.4,852.4 L309.4,852.4 L310.4,852.3 L311.4,852.2 L312.4,852.2 L313.4,852.1 L314.4,852 L315.4,852 L316.4,851.9 L317.4,851.9 L318.4,851.8 L319.4,851.7 L320,851.7" fill="none" stroke="#000088" stroke-width="1.5" stroke-linejoin="round"/>
</g>
<circle cx="245.3" cy="820.7" r="2.3" fill="#fff" stroke="#FF0000" stroke-width="1.3"/>
<path d="M245.3,788.9 V848" stroke="#FF0000" stroke-opacity="0.75" stroke-width="1.3"/>
<circle cx="297.3" cy="865.4" r="2.3" fill="#fff" stroke="#FF0000" stroke-width="1.3"/>
<path d="M297.3,845.4 V880.7" stroke="#FF0000" stroke-opacity="0.75" stroke-width="1.3"/>
<text x="44.7" y="730.2" font-size="18" font-weight="bold" fill="#000" textLength="84.0" lengthAdjust="spacingAndGlyphs">Philippines</text>
<defs><clipPath id="ccr"><rect x="386.3" y="703.9" width="287.7" height="232.5"/></clipPath></defs>
<rect x="386.3" y="703.9" width="287.7" height="232.5" fill="#E5E5E5"/>
<path d="M386.3,926.6 H674 M386.3,895.4 H674 M386.3,864.1 H674 M386.3,832.9 H674 M386.3,801.7 H674 M386.3,770.5 H674 M386.3,739.2 H674 M386.3,708 H674 M386.3,703.9 V936.4 M443.8,703.9 V936.4 M501.4,703.9 V936.4 M558.9,703.9 V936.4 M616.5,703.9 V936.4 M674,703.9 V936.4" stroke="#F7F7F7" stroke-width="1.1" fill="none"/>
<path d="M382.3,926.6 H385.3 M382.3,895.4 H385.3 M382.3,864.1 H385.3 M382.3,832.9 H385.3 M382.3,801.7 H385.3 M382.3,770.5 H385.3 M382.3,739.2 H385.3 M382.3,708 H385.3 M386.3,937.4 V940.4 M443.8,937.4 V940.4 M501.4,937.4 V940.4 M558.9,937.4 V940.4 M616.5,937.4 V940.4 M674,937.4 V940.4" stroke="#555" stroke-width="0.9" fill="none"/>
<text x="378.7" y="931" font-size="10.4" fill="#303030" stroke="#303030" stroke-width="0.2" text-anchor="end">0.0</text>
<text x="378.7" y="899.8" font-size="10.4" fill="#303030" stroke="#303030" stroke-width="0.2" text-anchor="end">2.5</text>
<text x="378.7" y="868.5" font-size="10.4" fill="#303030" stroke="#303030" stroke-width="0.2" text-anchor="end">5.0</text>
<text x="378.7" y="837.3" font-size="10.4" fill="#303030" stroke="#303030" stroke-width="0.2" text-anchor="end">7.5</text>
<text x="378.7" y="806.1" font-size="10.4" fill="#303030" stroke="#303030" stroke-width="0.2" text-anchor="end">10.0</text>
<text x="378.7" y="774.9" font-size="10.4" fill="#303030" stroke="#303030" stroke-width="0.2" text-anchor="end">12.5</text>
<text x="378.7" y="743.6" font-size="10.4" fill="#303030" stroke="#303030" stroke-width="0.2" text-anchor="end">15.0</text>
<text x="378.7" y="712.4" font-size="10.4" fill="#303030" stroke="#303030" stroke-width="0.2" text-anchor="end">17.5</text>
<text x="386.3" y="952.4" font-size="10.4" fill="#303030" stroke="#303030" stroke-width="0.2" text-anchor="middle">1970</text>
<text x="443.8" y="952.4" font-size="10.4" fill="#303030" stroke="#303030" stroke-width="0.2" text-anchor="middle">1980</text>
<text x="501.4" y="952.4" font-size="10.4" fill="#303030" stroke="#303030" stroke-width="0.2" text-anchor="middle">1990</text>
<text x="558.9" y="952.4" font-size="10.4" fill="#303030" stroke="#303030" stroke-width="0.2" text-anchor="middle">2000</text>
<text x="616.5" y="952.4" font-size="10.4" fill="#303030" stroke="#303030" stroke-width="0.2" text-anchor="middle">2010</text>
<text x="674" y="952.4" font-size="10.4" fill="#303030" stroke="#303030" stroke-width="0.2" text-anchor="middle">2020</text>
<text x="530.1" y="967.2" font-size="12.6" fill="#303030" stroke="#303030" stroke-width="0.2" text-anchor="middle" textLength="24.2" lengthAdjust="spacingAndGlyphs">time</text>
<text transform="translate(354.1,821.3) rotate(-90)" font-size="11.6" fill="#303030" stroke="#303030" stroke-width="0.2" text-anchor="middle" textLength="92.4" lengthAdjust="spacingAndGlyphs">perc_strain_mdr</text>
<g clip-path="url(#ccr)">
<path d="M386.3,926.3 L387.3,926.2 L388.3,926 L389.3,925.9 L390.3,925.8 L391.3,925.7 L392.3,925.6 L393.3,925.5 L394.3,925.4 L395.3,925.3 L396.3,925.3 L397.3,925.3 L398.3,925.2 L399.3,925.2 L400.3,925.2 L401.3,925.2 L402.3,925.2 L403.3,925.2 L404.3,925.2 L405.3,925.2 L406.3,925.3 L407.3,925.3 L408.3,925.3 L409.3,925.4 L410.3,925.4 L411.3,925.4 L412.3,925.5 L413.3,925.5 L414.3,925.5 L415.3,925.6 L416.3,925.6 L417.3,925.6 L418.3,925.7 L419.3,925.7 L420.3,925.7 L421.3,925.7 L422.3,925.7 L423.3,925.7 L424.3,925.7 L425.3,925.7 L426.3,925.6 L427.3,925.6 L428.3,925.5 L429.3,925.4 L430.3,925.3 L431.3,925.2 L432.3,925.1 L433.3,925 L434.3,924.8 L435.3,924.6 L436.3,924.4 L437.3,924.2 L438.3,924 L439.3,923.7 L440.3,923.4 L441.3,923.1 L442.3,922.8 L443.3,922.5 L444.3,922.1 L445.3,921.7 L446.3,921.2 L447.3,920.6 L448.3,919.9 L449.3,919.2 L450.3,918.5 L451.3,917.7 L452.3,916.8 L453.3,915.9 L454.3,914.9 L455.3,913.8 L456.3,912.7 L457.3,911.6 L458.3,910.4 L459.3,909.2 L460.3,907.9 L461.3,906.6 L462.3,905.2 L463.3,903.8 L464.3,902.4 L465.3,900.9 L466.3,899.4 L467.3,897.8 L468.3,896 L469.3,894.1 L470.3,892.2 L471.3,890.2 L472.3,888.1 L473.3,886 L474.3,883.8 L475.3,881.5 L476.3,879.1 L477.3,876.7 L478.3,874.2 L479.3,871.7 L480.3,869 L481.3,866.3 L482.3,863.6 L483.3,860.7 L484.3,857.7 L485.3,854.7 L486.3,851.5 L487.3,848.2 L488.3,844.9 L489.3,841.5 L490.3,838.1 L491.3,834.6 L492.3,831.1 L493.3,827.6 L494.3,824 L495.3,820.4 L496.3,816.7 L497.3,813 L498.3,809.2 L499.3,805.5 L500.3,801.7 L501.3,797.9 L502.3,794.2 L503.3,790.4 L504.3,786.6 L505.3,782.8 L506.3,779 L507.3,775.3 L508.3,771.6 L509.3,767.9 L510.3,764.2 L511.3,760.5 L512.3,756.9 L513.3,753.3 L514.3,749.9 L515.3,746.6 L516.3,743.4 L517.3,740.4 L518.3,737.4 L519.3,734.5 L520.3,731.8 L521.3,729.1 L522.3,726.7 L523.3,724.5 L524.3,722.6 L525.3,721 L526.3,719.8 L527.3,718.6 L528.3,717.6 L529.3,716.7 L530.3,716 L531.3,715.5 L532.3,715.1 L533.3,714.8 L534.3,714.8 L535.3,714.9 L536.3,715.3 L537.3,715.8 L538.3,716.6 L539.3,717.6 L540.3,718.7 L541.3,720 L542.3,721.4 L543.3,722.9 L544.3,724.5 L545.3,726.2 L546.3,727.9 L547.3,729.7 L548.3,731.7 L549.3,733.9 L550.3,736.2 L551.3,738.7 L552.3,741.2 L553.3,743.8 L554.3,746.5 L555.3,749.2 L556.3,752 L557.3,754.8 L558.3,757.7 L559.3,760.6 L560.3,763.6 L561.3,766.6 L562.3,769.6 L563.3,772.6 L564.3,775.7 L565.3,778.8 L566.3,781.8 L567.3,784.8 L568.3,787.8 L569.3,790.7 L570.3,793.5 L571.3,796.2 L572.3,798.8 L573.3,801.3 L574.3,803.6 L575.3,805.9 L576.3,808.1 L577.3,810.3 L578.3,812.5 L579.3,814.5 L580.3,816.5 L581.3,818.4 L582.3,820.2 L583.3,822 L584.3,823.7 L585.3,825.2 L586.3,826.7 L587.3,828.1 L588.3,829.4 L589.3,830.5 L590.3,831.6 L591.3,832.5 L592.3,833.5 L593.3,834.4 L594.3,835.2 L595.3,836 L596.3,836.8 L597.3,837.5 L598.3,838.2 L599.3,838.9 L600.3,839.5 L601.3,840.1 L602.3,840.7 L603.3,841.2 L604.3,841.7 L605.3,842.2 L606.3,842.6 L607.3,843 L608.3,843.4 L609.3,843.7 L610.3,844 L611.3,844.3 L612.3,844.6 L613.3,844.8 L614.3,845 L615.3,845.1 L616.3,845.3 L617.3,845.4 L618.3,845.5 L619.3,845.6 L620.3,845.7 L621.3,845.8 L622.3,845.9 L623.3,845.9 L624.3,846 L625.3,846.1 L626.3,846.1 L627.3,846.2 L628.3,846.2 L629.3,846.3 L630.3,846.3 L631.3,846.4 L632.3,846.4 L633.3,846.4 L634.3,846.5 L635.3,846.5 L636.3,846.5 L637.3,846.5 L638.3,846.5 L639.3,846.5 L640.3,846.5 L641.3,846.5 L642.3,846.5 L643.3,846.5 L644.3,846.5 L645.3,846.5 L646.3,846.4 L647.3,846.4 L648.3,846.4 L649.3,846.4 L650.3,846.3 L651.3,846.3 L652.3,846.3 L653.3,846.2 L654.3,846.2 L655.3,846.1 L656.3,846.1 L657.3,846.1 L658.3,846 L659.3,846 L660.3,845.9 L661.3,845.9 L662.3,845.8 L663.3,845.8 L664.3,845.7 L665.3,845.7 L666.3,845.6 L667.3,845.6 L668.3,845.5 L669.3,845.5 L670.3,845.4 L671.3,845.3 L672.3,845.3 L673.3,845.2 L674,845.2 L674,907.7 L673.3,907.7 L672.3,907.7 L671.3,907.6 L670.3,907.6 L669.3,907.6 L668.3,907.6 L667.3,907.6 L666.3,907.6 L665.3,907.6 L664.3,907.7 L663.3,907.7 L662.3,907.7 L661.3,907.7 L660.3,907.7 L659.3,907.7 L658.3,907.8 L657.3,907.8 L656.3,907.8 L655.3,907.8 L654.3,907.9 L653.3,907.9 L652.3,907.9 L651.3,907.9 L650.3,908 L649.3,908 L648.3,908 L647.3,908.1 L646.3,908.1 L645.3,908.2 L644.3,908.2 L643.3,908.2 L642.3,908.3 L641.3,908.3 L640.3,908.3 L639.3,908.4 L638.3,908.4 L637.3,908.5 L636.3,908.5 L635.3,908.5 L634.3,908.6 L633.3,908.6 L632.3,908.7 L631.3,908.7 L630.3,908.7 L629.3,908.8 L628.3,908.8 L627.3,908.8 L626.3,908.8 L625.3,908.9 L624.3,908.9 L623.3,908.9 L622.3,908.9 L621.3,908.9 L620.3,908.9 L619.3,908.9 L618.3,908.9 L617.3,908.9 L616.3,908.9 L615.3,908.9 L614.3,908.8 L613.3,908.8 L612.3,908.7 L611.3,908.7 L610.3,908.6 L609.3,908.5 L608.3,908.4 L607.3,908.3 L606.3,908.2 L605.3,908.1 L604.3,908 L603.3,907.8 L602.3,907.7 L601.3,907.5 L600.3,907.4 L599.3,907.2 L598.3,907 L597.3,906.9 L596.3,906.7 L595.3,906.5 L594.3,906.3 L593.3,906.1 L592.3,905.9 L591.3,905.6 L590.3,905.4 L589.3,905.1 L588.3,904.9 L587.3,904.6 L586.3,904.2 L585.3,903.9 L584.3,903.6 L583.3,903.2 L582.3,902.8 L581.3,902.5 L580.3,902.1 L579.3,901.6 L578.3,901.2 L577.3,900.8 L576.3,900.4 L575.3,899.9 L574.3,899.4 L573.3,899 L572.3,898.5 L571.3,898 L570.3,897.5 L569.3,896.9 L568.3,896.3 L567.3,895.8 L566.3,895.2 L565.3,894.6 L564.3,894 L563.3,893.4 L562.3,892.8 L561.3,892.2 L560.3,891.7 L559.3,891.1 L558.3,890.5 L557.3,889.9 L556.3,889.3 L555.3,888.7 L554.3,888.1 L553.3,887.6 L552.3,887 L551.3,886.4 L550.3,885.9 L549.3,885.4 L548.3,884.9 L547.3,884.4 L546.3,884 L545.3,883.5 L544.3,883.1 L543.3,882.7 L542.3,882.3 L541.3,881.9 L540.3,881.6 L539.3,881.3 L538.3,881 L537.3,880.8 L536.3,880.7 L535.3,880.6 L534.3,880.5 L533.3,880.6 L532.3,880.6 L531.3,880.8 L530.3,880.9 L529.3,881.2 L528.3,881.4 L527.3,881.8 L526.3,882.2 L525.3,882.8 L524.3,883.4 L523.3,884.1 L522.3,884.8 L521.3,885.5 L520.3,886.3 L519.3,887.2 L518.3,888 L517.3,889 L516.3,889.9 L515.3,890.9 L514.3,892 L513.3,893 L512.3,894 L511.3,895 L510.3,896 L509.3,897.1 L508.3,898.1 L507.3,899.2 L506.3,900.3 L505.3,901.3 L504.3,902.4 L503.3,903.4 L502.3,904.4 L501.3,905.4 L500.3,906.4 L499.3,907.4 L498.3,908.3 L497.3,909.2 L496.3,910.1 L495.3,911 L494.3,911.9 L493.3,912.7 L492.3,913.6 L491.3,914.3 L490.3,915.1 L489.3,915.8 L488.3,916.5 L487.3,917.1 L486.3,917.7 L485.3,918.3 L484.3,918.8 L483.3,919.2 L482.3,919.6 L481.3,920 L480.3,920.4 L479.3,920.7 L478.3,921 L477.3,921.3 L476.3,921.6 L475.3,921.9 L474.3,922.2 L473.3,922.4 L472.3,922.6 L471.3,922.8 L470.3,923 L469.3,923.2 L468.3,923.4 L467.3,923.5 L466.3,923.7 L465.3,923.8 L464.3,923.9 L463.3,924.1 L462.3,924.2 L461.3,924.3 L460.3,924.4 L459.3,924.6 L458.3,924.7 L457.3,924.8 L456.3,924.9 L455.3,925 L454.3,925.1 L453.3,925.1 L452.3,925.2 L451.3,925.3 L450.3,925.4 L449.3,925.5 L448.3,925.5 L447.3,925.6 L446.3,925.7 L445.3,925.7 L444.3,925.8 L443.3,925.8 L442.3,925.8 L441.3,925.9 L440.3,925.9 L439.3,926 L438.3,926 L437.3,926 L436.3,926.1 L435.3,926.1 L434.3,926.1 L433.3,926.2 L432.3,926.2 L431.3,926.2 L430.3,926.2 L429.3,926.3 L428.3,926.3 L427.3,926.3 L426.3,926.3 L425.3,926.3 L424.3,926.3 L423.3,926.4 L422.3,926.4 L421.3,926.4 L420.3,926.4 L419.3,926.4 L418.3,926.4 L417.3,926.4 L416.3,926.4 L415.3,926.4 L414.3,926.4 L413.3,926.5 L412.3,926.5 L411.3,926.5 L410.3,926.5 L409.3,926.5 L408.3,926.5 L407.3,926.5 L406.3,926.5 L405.3,926.5 L404.3,926.5 L403.3,926.5 L402.3,926.5 L401.3,926.5 L400.3,926.6 L399.3,926.6 L398.3,926.6 L397.3,926.6 L396.3,926.6 L395.3,926.6 L394.3,926.6 L393.3,926.6 L392.3,926.6 L391.3,926.6 L390.3,926.7 L389.3,926.7 L388.3,926.7 L387.3,926.7 L386.3,926.7 Z" fill="#B0C4DE"/>
<path d="M386.3,926.3 L387.3,926.3 L388.3,926.2 L389.3,926.1 L390.3,926.1 L391.3,926 L392.3,926 L393.3,926 L394.3,925.9 L395.3,925.9 L396.3,925.9 L397.3,925.9 L398.3,925.9 L399.3,925.9 L400.3,925.9 L401.3,925.9 L402.3,925.9 L403.3,925.9 L404.3,926 L405.3,926 L406.3,926 L407.3,926 L408.3,926.1 L409.3,926.1 L410.3,926.1 L411.3,926.1 L412.3,926.2 L413.3,926.2 L414.3,926.2 L415.3,926.2 L416.3,926.3 L417.3,926.3 L418.3,926.3 L419.3,926.3 L420.3,926.3 L421.3,926.3 L422.3,926.3 L423.3,926.3 L424.3,926.3 L425.3,926.2 L426.3,926.2 L427.3,926.1 L428.3,926 L429.3,925.9 L430.3,925.8 L431.3,925.7 L432.3,925.6 L433.3,925.4 L434.3,925.3 L435.3,925.1 L436.3,924.9 L437.3,924.7 L438.3,924.5 L439.3,924.3 L440.3,924.1 L441.3,923.8 L442.3,923.5 L443.3,923.3 L444.3,923 L445.3,922.6 L446.3,922.2 L447.3,921.8 L448.3,921.3 L449.3,920.8 L450.3,920.3 L451.3,919.7 L452.3,919.1 L453.3,918.5 L454.3,917.8 L455.3,917.1 L456.3,916.3 L457.3,915.5 L458.3,914.7 L459.3,913.9 L460.3,913 L461.3,912.1 L462.3,911.1 L463.3,910.2 L464.3,909.2 L465.3,908.2 L466.3,907.1 L467.3,906.1 L468.3,904.9 L469.3,903.7 L470.3,902.5 L471.3,901.1 L472.3,899.8 L473.3,898.3 L474.3,896.9 L475.3,895.3 L476.3,893.7 L477.3,892.1 L478.3,890.4 L479.3,888.7 L480.3,886.9 L481.3,885.1 L482.3,883.3 L483.3,881.4 L484.3,879.5 L485.3,877.5 L486.3,875.5 L487.3,873.3 L488.3,871.1 L489.3,868.8 L490.3,866.5 L491.3,864.1 L492.3,861.7 L493.3,859.2 L494.3,856.6 L495.3,854 L496.3,851.3 L497.3,848.6 L498.3,845.8 L499.3,842.9 L500.3,840 L501.3,837 L502.3,834.1 L503.3,831.1 L504.3,828.1 L505.3,825 L506.3,822 L507.3,819 L508.3,816 L509.3,813 L510.3,810.1 L511.3,807.2 L512.3,804.3 L513.3,801.5 L514.3,798.8 L515.3,796.2 L516.3,793.6 L517.3,791.1 L518.3,788.7 L519.3,786.5 L520.3,784.3 L521.3,782.2 L522.3,780.3 L523.3,778.5 L524.3,776.9 L525.3,775.5 L526.3,774.1 L527.3,772.9 L528.3,771.9 L529.3,771 L530.3,770.3 L531.3,769.8 L532.3,769.3 L533.3,769 L534.3,768.8 L535.3,768.7 L536.3,768.8 L537.3,769.1 L538.3,769.5 L539.3,770 L540.3,770.7 L541.3,771.4 L542.3,772.2 L543.3,773.2 L544.3,774.3 L545.3,775.6 L546.3,776.9 L547.3,778.4 L548.3,779.9 L549.3,781.5 L550.3,783.3 L551.3,785 L552.3,786.9 L553.3,788.8 L554.3,790.8 L555.3,792.7 L556.3,794.7 L557.3,796.8 L558.3,798.8 L559.3,800.8 L560.3,802.8 L561.3,804.9 L562.3,806.9 L563.3,809 L564.3,811.1 L565.3,813.2 L566.3,815.3 L567.3,817.4 L568.3,819.4 L569.3,821.4 L570.3,823.3 L571.3,825.2 L572.3,827 L573.3,828.7 L574.3,830.4 L575.3,832 L576.3,833.6 L577.3,835.1 L578.3,836.6 L579.3,838.1 L580.3,839.5 L581.3,840.9 L582.3,842.3 L583.3,843.6 L584.3,844.8 L585.3,845.9 L586.3,847 L587.3,848.1 L588.3,849 L589.3,849.9 L590.3,850.7 L591.3,851.4 L592.3,852 L593.3,852.6 L594.3,853.1 L595.3,853.6 L596.3,854.1 L597.3,854.5 L598.3,854.9 L599.3,855.3 L600.3,855.6 L601.3,856 L602.3,856.3 L603.3,856.5 L604.3,856.8 L605.3,857 L606.3,857.2 L607.3,857.4 L608.3,857.6 L609.3,857.8 L610.3,857.9 L611.3,858 L612.3,858.1 L613.3,858.2 L614.3,858.3 L615.3,858.3 L616.3,858.4 L617.3,858.4 L618.3,858.4 L619.3,858.4 L620.3,858.5 L621.3,858.5 L622.3,858.5 L623.3,858.5 L624.3,858.5 L625.3,858.6 L626.3,858.6 L627.3,858.6 L628.3,858.6 L629.3,858.6 L630.3,858.7 L631.3,858.7 L632.3,858.7 L633.3,858.7 L634.3,858.7 L635.3,858.7 L636.3,858.7 L637.3,858.7 L638.3,858.7 L639.3,858.7 L640.3,858.7 L641.3,858.7 L642.3,858.7 L643.3,858.7 L644.3,858.7 L645.3,858.7 L646.3,858.7 L647.3,858.7 L648.3,858.7 L649.3,858.7 L650.3,858.7 L651.3,858.7 L652.3,858.6 L653.3,858.6 L654.3,858.6 L655.3,858.6 L656.3,858.5 L657.3,858.5 L658.3,858.5 L659.3,858.4 L660.3,858.4 L661.3,858.4 L662.3,858.3 L663.3,858.3 L664.3,858.2 L665.3,858.2 L666.3,858.1 L667.3,858.1 L668.3,858 L669.3,858 L670.3,857.9 L671.3,857.9 L672.3,857.8 L673.3,857.8 L674,857.7 L674,871.4 L673.3,871.4 L672.3,871.4 L671.3,871.4 L670.3,871.4 L669.3,871.4 L668.3,871.4 L667.3,871.4 L666.3,871.5 L665.3,871.5 L664.3,871.5 L663.3,871.5 L662.3,871.6 L661.3,871.6 L660.3,871.6 L659.3,871.7 L658.3,871.7 L657.3,871.7 L656.3,871.8 L655.3,871.8 L654.3,871.9 L653.3,871.9 L652.3,872 L651.3,872 L650.3,872.1 L649.3,872.1 L648.3,872.2 L647.3,872.2 L646.3,872.3 L645.3,872.3 L644.3,872.4 L643.3,872.4 L642.3,872.5 L641.3,872.5 L640.3,872.6 L639.3,872.6 L638.3,872.7 L637.3,872.7 L636.3,872.8 L635.3,872.9 L634.3,872.9 L633.3,873 L632.3,873 L631.3,873.1 L630.3,873.1 L629.3,873.1 L628.3,873.2 L627.3,873.2 L626.3,873.3 L625.3,873.3 L624.3,873.3 L623.3,873.3 L622.3,873.4 L621.3,873.4 L620.3,873.4 L619.3,873.4 L618.3,873.4 L617.3,873.4 L616.3,873.4 L615.3,873.4 L614.3,873.3 L613.3,873.3 L612.3,873.2 L611.3,873.2 L610.3,873.1 L609.3,873 L608.3,872.9 L607.3,872.8 L606.3,872.7 L605.3,872.6 L604.3,872.5 L603.3,872.3 L602.3,872.2 L601.3,872 L600.3,871.9 L599.3,871.7 L598.3,871.5 L597.3,871.4 L596.3,871.2 L595.3,871 L594.3,870.8 L593.3,870.5 L592.3,870.3 L591.3,870.1 L590.3,869.8 L589.3,869.6 L588.3,869.3 L587.3,869 L586.3,868.7 L585.3,868.3 L584.3,867.9 L583.3,867.6 L582.3,867.2 L581.3,866.8 L580.3,866.4 L579.3,865.9 L578.3,865.5 L577.3,865 L576.3,864.6 L575.3,864.1 L574.3,863.6 L573.3,863.1 L572.3,862.6 L571.3,862.1 L570.3,861.5 L569.3,861 L568.3,860.4 L567.3,859.8 L566.3,859.2 L565.3,858.5 L564.3,857.9 L563.3,857.3 L562.3,856.7 L561.3,856.1 L560.3,855.5 L559.3,855 L558.3,854.4 L557.3,853.8 L556.3,853.2 L555.3,852.6 L554.3,852.1 L553.3,851.5 L552.3,851 L551.3,850.5 L550.3,850 L549.3,849.5 L548.3,849.1 L547.3,848.7 L546.3,848.3 L545.3,848 L544.3,847.7 L543.3,847.4 L542.3,847.2 L541.3,846.9 L540.3,846.7 L539.3,846.5 L538.3,846.4 L537.3,846.3 L536.3,846.3 L535.3,846.3 L534.3,846.4 L533.3,846.6 L532.3,846.8 L531.3,847.1 L530.3,847.5 L529.3,848 L528.3,848.5 L527.3,849 L526.3,849.7 L525.3,850.3 L524.3,851.1 L523.3,851.9 L522.3,852.7 L521.3,853.6 L520.3,854.6 L519.3,855.8 L518.3,857.1 L517.3,858.4 L516.3,859.9 L515.3,861.4 L514.3,862.9 L513.3,864.4 L512.3,866 L511.3,867.7 L510.3,869.4 L509.3,871.1 L508.3,872.8 L507.3,874.6 L506.3,876.4 L505.3,878.1 L504.3,879.9 L503.3,881.6 L502.3,883.4 L501.3,885 L500.3,886.7 L499.3,888.3 L498.3,889.9 L497.3,891.5 L496.3,893.1 L495.3,894.6 L494.3,896.1 L493.3,897.6 L492.3,899 L491.3,900.4 L490.3,901.8 L489.3,903.1 L488.3,904.3 L487.3,905.5 L486.3,906.7 L485.3,907.8 L484.3,908.8 L483.3,909.7 L482.3,910.6 L481.3,911.4 L480.3,912.2 L479.3,913 L478.3,913.7 L477.3,914.4 L476.3,915.1 L475.3,915.7 L474.3,916.3 L473.3,916.9 L472.3,917.4 L471.3,917.9 L470.3,918.4 L469.3,918.9 L468.3,919.3 L467.3,919.7 L466.3,920 L465.3,920.4 L464.3,920.7 L463.3,921.1 L462.3,921.4 L461.3,921.7 L460.3,922 L459.3,922.3 L458.3,922.5 L457.3,922.8 L456.3,923 L455.3,923.3 L454.3,923.5 L453.3,923.7 L452.3,923.9 L451.3,924.1 L450.3,924.3 L449.3,924.5 L448.3,924.6 L447.3,924.8 L446.3,924.9 L445.3,925 L444.3,925.1 L443.3,925.2 L442.3,925.3 L441.3,925.4 L440.3,925.5 L439.3,925.6 L438.3,925.6 L437.3,925.7 L436.3,925.8 L435.3,925.8 L434.3,925.9 L433.3,925.9 L432.3,926 L431.3,926 L430.3,926.1 L429.3,926.1 L428.3,926.2 L427.3,926.2 L426.3,926.2 L425.3,926.2 L424.3,926.3 L423.3,926.3 L422.3,926.3 L421.3,926.3 L420.3,926.3 L419.3,926.3 L418.3,926.3 L417.3,926.3 L416.3,926.3 L415.3,926.3 L414.3,926.4 L413.3,926.4 L412.3,926.4 L411.3,926.4 L410.3,926.4 L409.3,926.4 L408.3,926.4 L407.3,926.4 L406.3,926.4 L405.3,926.4 L404.3,926.4 L403.3,926.4 L402.3,926.4 L401.3,926.4 L400.3,926.4 L399.3,926.4 L398.3,926.4 L397.3,926.4 L396.3,926.4 L395.3,926.4 L394.3,926.4 L393.3,926.5 L392.3,926.5 L391.3,926.5 L390.3,926.5 L389.3,926.5 L388.3,926.5 L387.3,926.6 L386.3,926.6 Z" fill="#6495ED"/>
<path d="M386.3,926.5 L387.3,926.5 L388.3,926.4 L389.3,926.4 L390.3,926.3 L391.3,926.3 L392.3,926.2 L393.3,926.2 L394.3,926.2 L395.3,926.2 L396.3,926.1 L397.3,926.1 L398.3,926.1 L399.3,926.1 L400.3,926.1 L401.3,926.1 L402.3,926.1 L403.3,926.1 L404.3,926.1 L405.3,926.1 L406.3,926.1 L407.3,926.1 L408.3,926.1 L409.3,926.1 L410.3,926.1 L411.3,926.1 L412.3,926.1 L413.3,926.1 L414.3,926.1 L415.3,926.1 L416.3,926.1 L417.3,926.2 L418.3,926.2 L419.3,926.2 L420.3,926.1 L421.3,926.1 L422.3,926.1 L423.3,926.1 L424.3,926.1 L425.3,926.1 L426.3,926 L427.3,926 L428.3,925.9 L429.3,925.9 L430.3,925.8 L431.3,925.8 L432.3,925.7 L433.3,925.6 L434.3,925.5 L435.3,925.4 L436.3,925.3 L437.3,925.2 L438.3,925.1 L439.3,925 L440.3,924.9 L441.3,924.7 L442.3,924.6 L443.3,924.4 L444.3,924.2 L445.3,924.1 L446.3,923.8 L447.3,923.6 L448.3,923.3 L449.3,923 L450.3,922.7 L451.3,922.4 L452.3,922 L453.3,921.7 L454.3,921.3 L455.3,920.8 L456.3,920.4 L457.3,919.9 L458.3,919.5 L459.3,919 L460.3,918.4 L461.3,917.9 L462.3,917.4 L463.3,916.8 L464.3,916.2 L465.3,915.6 L466.3,915 L467.3,914.4 L468.3,913.7 L469.3,913 L470.3,912.2 L471.3,911.4 L472.3,910.6 L473.3,909.7 L474.3,908.7 L475.3,907.8 L476.3,906.7 L477.3,905.7 L478.3,904.6 L479.3,903.5 L480.3,902.3 L481.3,901 L482.3,899.7 L483.3,898.3 L484.3,896.8 L485.3,895.3 L486.3,893.6 L487.3,892 L488.3,890.2 L489.3,888.4 L490.3,886.5 L491.3,884.5 L492.3,882.4 L493.3,880.3 L494.3,878.2 L495.3,876 L496.3,873.7 L497.3,871.5 L498.3,869.2 L499.3,866.9 L500.3,864.6 L501.3,862.3 L502.3,860 L503.3,857.7 L504.3,855.3 L505.3,853 L506.3,850.6 L507.3,848.3 L508.3,846 L509.3,843.7 L510.3,841.4 L511.3,839.2 L512.3,837.1 L513.3,835 L514.3,833 L515.3,831.1 L516.3,829.2 L517.3,827.3 L518.3,825.5 L519.3,823.8 L520.3,822.2 L521.3,820.7 L522.3,819.3 L523.3,817.9 L524.3,816.7 L525.3,815.7 L526.3,814.8 L527.3,814 L528.3,813.2 L529.3,812.6 L530.3,812 L531.3,811.5 L532.3,811.2 L533.3,810.9 L534.3,810.8 L535.3,810.9 L536.3,811 L537.3,811.2 L538.3,811.5 L539.3,811.9 L540.3,812.4 L541.3,812.9 L542.3,813.5 L543.3,814.2 L544.3,814.9 L545.3,815.6 L546.3,816.4 L547.3,817.3 L548.3,818.3 L549.3,819.4 L550.3,820.5 L551.3,821.8 L552.3,823.1 L553.3,824.4 L554.3,825.8 L555.3,827.2 L556.3,828.6 L557.3,830 L558.3,831.5 L559.3,832.8 L560.3,834.2 L561.3,835.5 L562.3,836.9 L563.3,838.2 L564.3,839.6 L565.3,840.9 L566.3,842.3 L567.3,843.6 L568.3,844.9 L569.3,846.1 L570.3,847.3 L571.3,848.5 L572.3,849.6 L573.3,850.6 L574.3,851.6 L575.3,852.5 L576.3,853.4 L577.3,854.3 L578.3,855.2 L579.3,856 L580.3,856.8 L581.3,857.6 L582.3,858.3 L583.3,859 L584.3,859.7 L585.3,860.3 L586.3,860.9 L587.3,861.4 L588.3,862 L589.3,862.4 L590.3,862.9 L591.3,863.3 L592.3,863.6 L593.3,863.9 L594.3,864.2 L595.3,864.5 L596.3,864.8 L597.3,865 L598.3,865.3 L599.3,865.5 L600.3,865.7 L601.3,865.9 L602.3,866.1 L603.3,866.3 L604.3,866.4 L605.3,866.6 L606.3,866.7 L607.3,866.8 L608.3,867 L609.3,867.1 L610.3,867.2 L611.3,867.2 L612.3,867.3 L613.3,867.4 L614.3,867.5 L615.3,867.5 L616.3,867.6 L617.3,867.6 L618.3,867.6 L619.3,867.7 L620.3,867.7 L621.3,867.7 L622.3,867.8 L623.3,867.8 L624.3,867.8 L625.3,867.9 L626.3,867.9 L627.3,867.9 L628.3,867.9 L629.3,868 L630.3,868 L631.3,868 L632.3,868 L633.3,868 L634.3,868 L635.3,868.1 L636.3,868.1 L637.3,868.1 L638.3,868.1 L639.3,868.1 L640.3,868.1 L641.3,868.1 L642.3,868.1 L643.3,868.1 L644.3,868.1 L645.3,868.1 L646.3,868.1 L647.3,868 L648.3,868 L649.3,868 L650.3,868 L651.3,867.9 L652.3,867.9 L653.3,867.8 L654.3,867.8 L655.3,867.8 L656.3,867.7 L657.3,867.6 L658.3,867.6 L659.3,867.5 L660.3,867.5 L661.3,867.4 L662.3,867.3 L663.3,867.2 L664.3,867.2 L665.3,867.1 L666.3,867 L667.3,866.9 L668.3,866.8 L669.3,866.7 L670.3,866.6 L671.3,866.5 L672.3,866.4 L673.3,866.3 L674,866.2" fill="none" stroke="#000088" stroke-width="1.5" stroke-linejoin="round"/>
</g>
<circle cx="622.4" cy="840" r="2.3" fill="#fff" stroke="#FF0000" stroke-width="1.3"/>
<path d="M622.4,806.1 V873.7" stroke="#FF0000" stroke-opacity="0.75" stroke-width="1.3"/>
<text x="407.2" y="730.8" font-size="18" font-weight="bold" fill="#000" textLength="70.9" lengthAdjust="spacingAndGlyphs">Viet Nam</text>
</svg></body></html>
